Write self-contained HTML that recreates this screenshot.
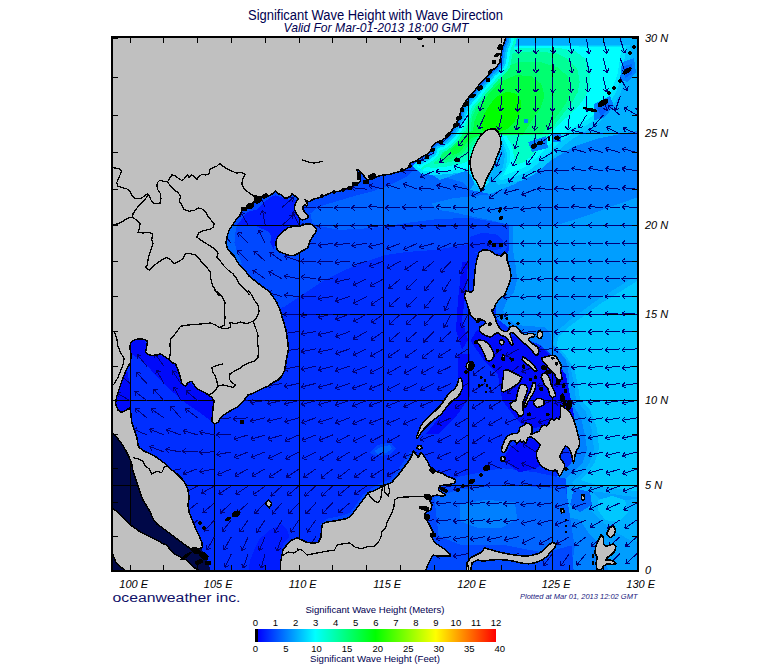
<!DOCTYPE html>
<html><head><meta charset="utf-8"><title>Significant Wave Height</title>
<style>
html,body{margin:0;padding:0;background:#fff;}
body{width:775px;height:665px;overflow:hidden;position:relative;font-family:"Liberation Sans",sans-serif;}
svg{position:absolute;left:0;top:0;}
text{font-family:"Liberation Sans",sans-serif;}
</style></head><body>
<svg width="775" height="665" viewBox="0 0 775 665">
<defs>
<clipPath id="mc"><rect x="113" y="38" width="524" height="532"/></clipPath>
<linearGradient id="cb" x1="0" x2="1" y1="0" y2="0">
<stop offset="0" stop-color="#000"/><stop offset="0.012" stop-color="#000"/>
<stop offset="0.013" stop-color="#0000ff"/>
<stop offset="0.25" stop-color="#00ffff"/>
<stop offset="0.5" stop-color="#00ff00"/>
<stop offset="0.75" stop-color="#ffff00"/>
<stop offset="1" stop-color="#ff0000"/>
</linearGradient>
</defs>
<rect x="0" y="0" width="775" height="665" fill="#fff"/>

<g clip-path="url(#mc)" shape-rendering="crispEdges">
<rect x="113" y="38" width="524" height="532" fill="#002eff"/>
<path d="M270,310 284,307 302,295 323,281 343,271 364,262 385,255 406,252 434,250 465,245 480,240 520,240 520,100 200,100 200,310Z" fill="#0048ff"/>
<path d="M312.1,222.3 317.3,225.7 340,229.9 364.4,228.5 385.3,226.4 406.2,223 434.1,219.5 468.9,217.7 496.8,222.3 514.2,225.7 514.2,163 420.1,163 406.2,177 388.8,185.7 371.3,191.6 353.9,196.1 336.5,201.4 319.1,206.6 310.4,213.6Z" fill="#0064ff"/>
<path d="M431,203.7 451.6,198.5 470.2,196.4 490.8,194.4 515.6,189.2 515.6,226.4 490.8,220.2 470.2,216.1 451.6,211.9 437.2,209.9Z" fill="#0080ff"/>
<path d="M469.2,227.4 511.5,227.4 510.4,236.7 507.3,247 503.2,253.2 470.2,253.2Z" fill="#0048ff"/>
<path d="M470.2,236.7 482.6,232.6 497,234.6 503.2,240.8 501.2,249.1 470.2,253.2Z" fill="#002eff"/>
<path d="M418,163 425,168 440,176 462,182 470,190 483,190 492,198 500,207 506,217 509,226 509,250 503,262 500,285 496,300 496,318 520,336 540,345 552,355 560,372 566,395 570,410 576,430 578,450 570,465 560,472 552,485 546,500 550,520 556,540 552,575 650,575 650,20 506,20 500,60 470,110 440,140Z" fill="#0080ff"/>
<path d="M513,226 513,250 516,268 517,280 514,292 507,301 503,310 507,318 515,324 524,326 545,327 551,335 552,345 558,350 566,360 569,375 569,395 573,405 581,418 585,435 587,450 583,462 576,470 566,478 560,490 556,500 560,515 570,525 585,530 600,545 610,575 650,575 650,193 610,207 586,216 562,223.5 538,226Z" fill="#009eff"/>
<path d="M650,268 637,275 620,286 600,298 585,309 570,320 556,332 553,344 560,352 570,364 574,385 576,400 586,412 592,430 594,450 590,462 582,474 572,482 575,490 600,492 625,496 650,498Z" fill="#00b0ff"/>
<path d="M650,274 637,281 620,292 600,304 585,315 570,326 558,337 557,346 566,356 574,368 578,385 580,400 590,410 597,428 599,448 595,462 588,472 580,480 600,486 625,490 650,492Z" fill="#00c8ff"/>
<path d="M575,484 590,490 600,500 612,505 625,500 650,498 650,545 630,540 612,530 598,518 585,505 572,495Z" fill="#00b0ff"/>
<path d="M598,500 612,496 625,500 628,512 618,522 605,520 598,510Z" fill="#00c8ff"/>
<path d="M574,488 590,492 592,505 580,512 570,505Z" fill="#0064ff"/>
<path d="M540,520 560,515 580,520 590,535 585,560 570,575 540,575Z" fill="#0080ff"/>
<path d="M545,540 560,535 575,545 572,565 560,575 545,575Z" fill="#0064ff"/>
<path d="M470,190 478,178 470,160 462,172 440,180 425,170 440,150 470,115 495,75 505,36 650,36 650,130 630,132 600,138 575,146 555,158 535,172 515,184 500,190 490,194Z" fill="#00b0ff"/>
<path d="M456.8,127.7 465.6,101.4 474.4,79.5 485.4,61.9 496.3,51 505.1,45.5 527,44.8 601.6,44.8 630.1,44.8 631.2,53.2 626.8,76.2 620.3,93.7 608.2,113.5 597.2,124.4 584.1,132.1 573.1,138.7 564.3,145.3 555.5,154.1 544.6,166.1 533.6,174.9 522.6,180.4 498.5,184.8 494.1,180.4 502.9,167.2 505.1,154.1 498.5,136.5 483.2,136.5 470,145.3 452.5,162.8 441.5,171.6 428.3,171.6 437.1,154.1 448.1,140.9Z" fill="#00c8ff"/>
<path d="M459,125.5 465.6,101.4 474.4,79.5 485.4,61.9 496.3,51 507.3,46.1 527,45.5 588.4,45.5 610.4,45.5 626.2,46.1 622.4,75.1 615.9,92.6 603.4,112.4 592.4,121.6 579.7,129.5 568.7,136.1 559.9,142 551.2,150.8 540.2,161.7 529.2,170.5 518.3,175.6 500.7,180.4 498.5,178.2 506.2,167.2 507.3,154.1 500.7,136.5 483.2,136.5 470,144.2 454.6,159.5 443.7,168.3 432.7,169.4 439.3,154.1 449.2,139.8Z" fill="#00e4ff"/>
<path d="M470,126 456,126 448,133 438,142 430,150 420,158 412,166 422,174 436,175 448,174 458,173 466,171 471,176 475,184 482,190 489,182 482,170 478,160 480,150 486,140 494,132Z" fill="#00e4ff"/>
<path d="M461.2,123.4 465.6,101.4 474.4,79.5 485.4,61.9 496.3,51 509.5,47 527,46.1 557.7,46.1 584.1,46.6 606,46.6 621.8,47 617.4,75.1 611,90.9 599,110.6 588.4,119 575.3,126.6 564.3,133.2 555.5,138.7 546.8,147.5 535.8,158.4 524.8,167.2 513.9,171.6 502.9,176 509.5,162.8 509.5,149.7 502.9,136.5 483.2,135.6 470,142 456.8,156.3 445.9,165 437.1,166.1 442.6,154.1 450.3,138.7Z" fill="#00ffff"/>
<path d="M470,128 458,128 450,135 440,144 432,152 422,160 416,166 424,171 436,172 448,171 458,170 466,168 472,172 476,180 482,186 486,180 480,170 476,160 478,150 484,140 492,132Z" fill="#00ffff"/>
<path d="M463.4,127.7 467.8,105.8 476.6,83.9 487.5,66.3 498.5,55.4 511.7,48.8 531.4,47.7 557.7,47.7 575.3,51 586.3,59.7 590.6,72.9 589.5,86.1 585.2,97 578.6,105.8 569.8,114.6 559.9,123.4 551.2,132.1 542.4,143.1 533.6,154.1 524.8,161.7 516.1,165 513.9,156.3 511.7,145.3 506.2,135.6 483.2,135 470,139.8 459,151.9 448.1,160.6 441.5,161.7 447,149.7 453.5,136.5Z" fill="#00ffc8"/>
<path d="M470,128 460,130 452,137 443,145 435,153 427,160 424,166 432,168 444,167 455,165 464,163 470,160 474,150 480,140 488,132Z" fill="#00ffc8"/>
<path d="M465.6,132.1 470,110.2 478.8,90.4 489.7,72.9 500.7,60.8 513.9,53.2 535.8,51 557.7,53.6 568.7,59.7 577.5,69.6 579.7,81.7 577.5,92.6 572,102.5 564.3,112.4 556.6,122.3 549,135 483.2,135 470,138.3 460.1,148.6 450.3,156.3 445.9,156.3 451.4,145.3 457.9,134.3Z" fill="#00ff96"/>
<path d="M470,130 460,132 453,139 445,147 438,154 432,160 434,164 444,163 454,161 462,158 468,154 472,147 478,139 486,132Z" fill="#00ff96"/>
<path d="M470,135 472.2,116.8 481,97 491.9,81.7 502.9,68.5 518.3,61.9 540.2,61.9 557.7,67.4 567.6,76.2 570.9,88.3 568.3,99.2 562.1,109.1 554.4,119 546.8,127.7 541.3,135 483.2,135 470,137 461.2,145.3 453.5,151.9 450.3,150.8 455.7,140.9 462.3,133.2Z" fill="#00ff70"/>
<path d="M472,130 462,134 455,141 448,148 442,154 440,159 446,160 454,158 461,154 466,149 470,143 476,137 484,132Z" fill="#00ff70"/>
<path d="M472.2,135 474.4,121.2 481,105.8 489.7,92.6 500.7,81.7 516.1,75.1 531.4,76.2 541.3,83.9 544.6,95.9 540.2,109.1 531.4,121.2 522.6,135 483.2,135 472.2,137.6 463.4,143.1 460.1,140.9 465.6,134.3Z" fill="#00ff42"/>
<path d="M474,130 466,134 460,140 454,146 450,151 452,155 458,153 463,148 467,142 472,137 480,132Z" fill="#00ff42"/>
<path d="M481,127.7 483.2,115.7 489.7,104.7 496.3,97 507.3,91.5 516.1,93.7 521.5,101.4 520.4,111.3 515,121.2 507.3,128.8 496.3,133.2 485.4,133.2Z" fill="#00ff00"/>
<path d="M622,62 634,58 636,72 628,82 620,80Z" fill="#0080ff"/>
<path d="M624,66 632,64 632,74 625,78Z" fill="#0064ff"/>
<path d="M594,104 610,96 614,106 604,118 594,120Z" fill="#0080ff"/>
<path d="M597,108 608,101 610,108 601,116Z" fill="#0064ff"/>
<path d="M528,142 546,136 548,148 532,152Z" fill="#0080ff"/>
<path d="M553,134 561,134 561,142 553,142Z" fill="#0080ff"/>
<path d="M524,119 528,119 528,123 524,123Z" fill="#0080ff"/>
<path d="M425.9,489.3 459.8,476.6 502.2,468.1 536.2,472.4 565.8,478.7 574.3,578.4 425.9,578.4Z" fill="#0048ff"/>
<path d="M434.4,497.8 459.8,489.3 502.2,485.1 544.6,487.2 565.8,489.3 574.3,544.5 544.6,552.9 502.2,544.5 459.8,544.5 438.6,536Z" fill="#0064ff"/>
<path d="M459.8,504.2 485.3,499.9 514.9,502 517.1,519 502.2,527.5 476.8,527.5 459.8,521.1Z" fill="#0080ff"/>
<path d="M319.5,525 327,518.8 339.5,516.2 349.5,513 355.8,505 363.2,494.5 372,488 382,482.5 390,479.5 395.8,472 403.2,462.5 409.5,452.5 413.2,451.2 412,456.2 405.8,466.2 398.2,476.2 392,483.8 383.2,487 373.2,492.5 365.8,497.5 358.2,507.5 350.8,517.5 339.5,521.2 327,523 322.5,525Z" fill="#0048ff"/>
<path d="M369.5,452.5 377,445 390.8,442.5 395.8,448.8 389.5,455 375.8,456.2Z" fill="#0048ff"/>
<path d="M374.5,451.2 379.5,447.5 389.5,445 392.5,448.8 387,452.5 377,453.8Z" fill="#0064ff"/>
<path d="M130.9,336.5 144.9,336.5 146.6,354 162.3,355.7 174.5,364.4 185,378.4 197.2,388.8 211.2,397.6 214.6,402.8 214.6,423.7 200.7,413.2 185,402.8 169.3,388.8 155.3,374.9 143.1,360.9 130.9,354Z" fill="#000afa"/>
<path d="M110,367.9 127.4,371.4 130.9,392.3 130.9,413.2 120.5,415 110,409.8Z" fill="#000afa"/>
<path d="M247.5,574.9 250.5,559 254.5,549.1 259.4,539.2 269.4,530.3 281.3,524.3 287.2,529.3 289.2,537.2 283.3,543.2 281.3,551.1 283.3,574.9Z" fill="#001cff"/>
<path d="M470.4,340.9 476.8,330.3 502.2,331.6 523.4,340 542.5,348.5 553.1,357.9 565.8,374.8 570.1,396 574.3,417.2 565.8,429.9 544.6,425.7 527.7,429.9 514.9,417.2 502.2,400.3 498,374.8 485.3,362.1Z" fill="#000afa"/>
<path d="M502.2,459.6 510.7,446.9 527.7,438.4 544.6,442.7 548.9,459.6 536.2,468.1 519.2,472.4Z" fill="#000afa"/>
<path d="M457.7,353.6 470.4,353.6 470.4,396 455.6,417.2 438.6,434.2 425.9,434.2 442.9,413 457.7,391.8Z" fill="#000afa"/>
<path d="M462,262 468,262 466,290 462,320 468,340 462,350 456,330 458,300Z" fill="#000afa"/>
<path d="M236.6,224.7 240.8,220.5 243.9,215.3 249.2,211.1 256.6,210 260.8,205.8 265,201.6 270.3,197.4 275.5,195.3 281.8,197.4 288.2,199.5 296.6,199.5 297.6,203.7 294.5,206.8 296.6,213.2 298.7,218.4 300.8,222.6 298.7,225.8 288.2,226.3 283.9,230 279.7,234.2 276.6,238.4 275.5,242.6 273.4,248.9 270.3,242.6 271.3,236.3 269.2,232.1 256.6,226.3 246.1,225.8Z" fill="#001cff"/>
<path d="M231.3,225.8 236.6,226.3 235,234.2 234.5,242.6 236.6,250 239.7,257.4 241.8,263.7 235.5,263.7 229.2,253.2 226.1,242.6 228.2,232.1Z" fill="#0064ff"/>
<path d="M100,425 127,425 135,450 145,480 160,510 185,535 200,545 215,580 100,580Z" fill="#000848"/>
<polyline points="506,35 504.8,41.2 502.2,47.5 501,55 499.8,62.5 496,67.5 491,71.2 487.2,76.2 483.5,80 479.8,83.8 476,88.8 472.2,93.8 468.5,97.5 464.8,102.5 462.2,107.5 459.8,115 457.2,121.2 452,130 449.5,133.8 445.8,137.5 440.8,141.2 435.8,142.5 432,146.2 430.8,151.2 425.8,155 420.8,157.5 415.8,161.2" fill="none" stroke="#00ffc8" stroke-width="22" stroke-linejoin="round" stroke-linecap="butt"/>
<polyline points="506,35 504.8,41.2 502.2,47.5 501,55 499.8,62.5 496,67.5 491,71.2 487.2,76.2 483.5,80 479.8,83.8 476,88.8 472.2,93.8 468.5,97.5 464.8,102.5 462.2,107.5 459.8,115 457.2,121.2 452,130 449.5,133.8 445.8,137.5 440.8,141.2 435.8,142.5 432,146.2 430.8,151.2 425.8,155 420.8,157.5 415.8,161.2" fill="none" stroke="#00ffff" stroke-width="17" stroke-linejoin="round" stroke-linecap="butt"/>
<polyline points="506,35 504.8,41.2 502.2,47.5 501,55 499.8,62.5 496,67.5 491,71.2 487.2,76.2 483.5,80 479.8,83.8 476,88.8 472.2,93.8 468.5,97.5 464.8,102.5 462.2,107.5 459.8,115 457.2,121.2 452,130 449.5,133.8 445.8,137.5 440.8,141.2 435.8,142.5 432,146.2 430.8,151.2 425.8,155 420.8,157.5 415.8,161.2" fill="none" stroke="#00c8ff" stroke-width="12" stroke-linejoin="round" stroke-linecap="butt"/>
<polyline points="506,35 504.8,41.2 502.2,47.5 501,55 499.8,62.5 496,67.5 491,71.2 487.2,76.2 483.5,80 479.8,83.8 476,88.8 472.2,93.8 468.5,97.5 464.8,102.5 462.2,107.5 459.8,115 457.2,121.2 452,130 449.5,133.8 445.8,137.5 440.8,141.2 435.8,142.5 432,146.2 430.8,151.2 425.8,155 420.8,157.5 415.8,161.2" fill="none" stroke="#009eff" stroke-width="8" stroke-linejoin="round" stroke-linecap="butt"/>
<polyline points="506,35 504.8,41.2 502.2,47.5 501,55 499.8,62.5 496,67.5 491,71.2 487.2,76.2 483.5,80 479.8,83.8 476,88.8 472.2,93.8 468.5,97.5 464.8,102.5 462.2,107.5 459.8,115 457.2,121.2 452,130 449.5,133.8 445.8,137.5 440.8,141.2 435.8,142.5 432,146.2 430.8,151.2 425.8,155 420.8,157.5 415.8,161.2" fill="none" stroke="#0064ff" stroke-width="4" stroke-linejoin="round" stroke-linecap="butt"/>
<line x1="130.5" y1="38" x2="130.5" y2="570" stroke="#000" stroke-width="1"/>
<line x1="214.5" y1="38" x2="214.5" y2="570" stroke="#000" stroke-width="1"/>
<line x1="299.5" y1="38" x2="299.5" y2="570" stroke="#000" stroke-width="1"/>
<line x1="383.5" y1="38" x2="383.5" y2="570" stroke="#000" stroke-width="1"/>
<line x1="468.5" y1="38" x2="468.5" y2="570" stroke="#000" stroke-width="1"/>
<line x1="552.5" y1="38" x2="552.5" y2="570" stroke="#000" stroke-width="1"/>
<line x1="113" y1="485.5" x2="637" y2="485.5" stroke="#000" stroke-width="1"/>
<line x1="113" y1="400.5" x2="637" y2="400.5" stroke="#000" stroke-width="1"/>
<line x1="113" y1="314.5" x2="637" y2="314.5" stroke="#000" stroke-width="1"/>
<line x1="113" y1="225.5" x2="637" y2="225.5" stroke="#000" stroke-width="1"/>
<line x1="113" y1="133.5" x2="637" y2="133.5" stroke="#000" stroke-width="1"/>
<g stroke="#000078" stroke-width="1" fill="none">
<path d="M130.0,400.6L116.9,393.0M116.9,393.0l4.5,-0.6M116.9,393.0l1.7,4.2M130.0,383.4L118.5,373.5M118.5,373.5l4.5,0.2M118.5,373.5l0.9,4.4M130.0,366.2L120.2,354.6M120.2,354.6l4.4,0.9M120.2,354.6l0.2,4.5M146.9,451.9L133.1,445.6M133.1,445.6l4.4,-1.0M133.1,445.6l2.1,4.0M146.9,434.9L132.9,429.0M132.9,429.0l4.3,-1.2M132.9,429.0l2.2,3.9M146.9,417.8L135.1,408.2M135.1,408.2l4.5,0.1M135.1,408.2l1.0,4.4M146.9,400.6L134.8,391.4M134.8,391.4l4.5,-0.1M134.8,391.4l1.1,4.4M146.9,383.4L136.4,372.5M136.4,372.5l4.5,0.6M136.4,372.5l0.5,4.5M146.9,366.2L137.1,354.6M137.1,354.6l4.4,0.9M137.1,354.6l0.2,4.5M163.8,451.9L149.6,446.4M149.6,446.4l4.3,-1.3M149.6,446.4l2.3,3.9M163.8,434.9L149.7,429.1M149.7,429.1l4.3,-1.2M149.7,429.1l2.2,3.9M163.8,417.8L151.4,409.0M151.4,409.0l4.5,-0.2M151.4,409.0l1.3,4.3M163.8,400.6L153.8,389.2M153.8,389.2l4.4,0.8M153.8,389.2l0.2,4.5M163.8,383.4L156.5,370.1M156.5,370.1l4.1,1.8M156.5,370.1l-0.7,4.4M163.8,366.2L155.1,353.7M155.1,353.7l4.3,1.3M155.1,353.7l-0.2,4.5M180.7,468.9L165.8,472.0M165.8,472.0l2.9,-3.4M165.8,472.0l4.0,2.0M180.7,451.9L165.7,449.3M165.7,449.3l4.0,-2.1M165.7,449.3l3.0,3.3M180.7,434.9L166.4,429.6M166.4,429.6l4.3,-1.4M166.4,429.6l2.4,3.8M180.7,417.8L170.7,406.3M170.7,406.3l4.4,0.8M170.7,406.3l0.3,4.5M180.7,400.6L174.1,386.9M174.1,386.9l4.0,2.0M174.1,386.9l-1.0,4.4M180.7,383.4L172.4,370.7M172.4,370.7l4.3,1.5M172.4,370.7l-0.4,4.5M197.6,519.8L186.9,530.6M186.9,530.6l0.5,-4.5M186.9,530.6l4.5,-0.6M197.6,502.8L185.7,512.4M185.7,512.4l1.0,-4.4M185.7,512.4l4.5,-0.1M197.6,485.9L184.4,493.4M184.4,493.4l1.7,-4.2M184.4,493.4l4.5,0.7M197.6,468.9L183.2,473.9M183.2,473.9l2.4,-3.8M183.2,473.9l4.3,1.4M197.6,451.9L182.4,450.9M182.4,450.9l3.7,-2.5M182.4,450.9l3.4,3.0M197.6,434.9L183.0,430.6M183.0,430.6l4.2,-1.7M183.0,430.6l2.6,3.6M197.6,417.8L185.4,408.7M185.4,408.7l4.5,-0.1M185.4,408.7l1.2,4.3M197.6,400.6L186.0,390.8M186.0,390.8l4.5,0.2M186.0,390.8l0.9,4.4M214.5,536.7L206.9,549.8M206.9,549.8l-0.6,-4.5M206.9,549.8l4.2,-1.7M214.5,519.8L204.4,531.1M204.4,531.1l0.3,-4.5M204.4,531.1l4.4,-0.8M214.5,502.8L202.9,512.7M202.9,512.7l0.9,-4.4M202.9,512.7l4.5,-0.2M214.5,485.9L201.3,493.4M201.3,493.4l1.7,-4.2M201.3,493.4l4.5,0.7M214.5,468.9L199.6,471.9M199.6,471.9l2.9,-3.4M199.6,471.9l4.0,2.0M214.5,451.9L199.3,452.3M199.3,452.3l3.5,-2.9M199.3,452.3l3.6,2.7M214.5,434.9L199.6,431.8M199.6,431.8l4.0,-2.0M199.6,431.8l2.9,3.4M231.4,553.6L225.1,567.4M225.1,567.4l-1.1,-4.4M225.1,567.4l4.0,-2.1M231.4,536.7L223.9,549.9M223.9,549.9l-0.7,-4.4M223.9,549.9l4.2,-1.7M231.4,519.8L222.0,531.7M222.0,531.7l0.0,-4.5M222.0,531.7l4.4,-1.1M231.4,502.8L220.2,513.1M220.2,513.1l0.7,-4.4M220.2,513.1l4.5,-0.3M231.4,485.9L218.6,494.2M218.6,494.2l1.5,-4.3M218.6,494.2l4.5,0.4M231.4,468.9L217.4,474.8M217.4,474.8l2.2,-3.9M217.4,474.8l4.3,1.2M231.4,451.9L216.5,454.7M216.5,454.7l3.0,-3.4M216.5,454.7l4.0,2.1M231.4,434.9L216.2,434.7M216.2,434.7l3.6,-2.7M216.2,434.7l3.5,2.8M231.4,417.8L216.3,419.0M216.3,419.0l3.3,-3.1M216.3,419.0l3.8,2.5M231.4,243.3L221.2,232.1M221.2,232.1l4.4,0.8M221.2,232.1l0.3,4.5M248.3,553.6L243.1,567.9M243.1,567.9l-1.4,-4.3M243.1,567.9l3.8,-2.4M248.3,536.7L241.8,550.5M241.8,550.5l-1.0,-4.4M241.8,550.5l4.0,-2.0M248.3,519.8L239.6,532.2M239.6,532.2l-0.2,-4.5M239.6,532.2l4.3,-1.3M248.3,502.8L237.0,513.0M237.0,513.0l0.8,-4.4M237.0,513.0l4.5,-0.3M248.3,485.9L235.7,494.4M235.7,494.4l1.4,-4.3M235.7,494.4l4.5,0.3M248.3,468.9L234.9,476.0M234.9,476.0l1.8,-4.1M234.9,476.0l4.4,0.8M248.3,451.9L234.2,457.6M234.2,457.6l2.2,-3.9M234.2,457.6l4.3,1.2M248.3,434.9L233.7,439.2M233.7,439.2l2.6,-3.7M233.7,439.2l4.2,1.6M248.3,417.8L233.1,419.0M233.1,419.0l3.3,-3.0M233.1,419.0l3.8,2.5M248.3,400.6L233.1,400.7M233.1,400.7l3.5,-2.8M233.1,400.7l3.5,2.8M248.3,261.2L237.5,250.5M237.5,250.5l4.5,0.5M237.5,250.5l0.6,4.5M248.3,243.3L237.7,232.5M237.7,232.5l4.5,0.6M237.7,232.5l0.5,4.5M248.3,225.4L240.7,212.2M240.7,212.2l4.2,1.7M240.7,212.2l-0.6,4.5M248.3,207.4L242.0,193.6M242.0,193.6l4.0,2.1M242.0,193.6l-1.0,4.4M265.2,553.6L261.0,568.2M261.0,568.2l-1.7,-4.2M261.0,568.2l3.6,-2.7M265.2,536.7L259.1,550.6M259.1,550.6l-1.1,-4.4M259.1,550.6l4.0,-2.1M265.2,519.8L256.8,532.5M256.8,532.5l-0.4,-4.5M256.8,532.5l4.3,-1.4M265.2,502.8L254.7,513.8M254.7,513.8l0.5,-4.5M254.7,513.8l4.5,-0.6M265.2,485.9L253.0,495.0M253.0,495.0l1.2,-4.3M253.0,495.0l4.5,0.1M265.2,468.9L251.8,476.2M251.8,476.2l1.8,-4.1M251.8,476.2l4.4,0.7M265.2,451.9L251.0,457.4M251.0,457.4l2.3,-3.9M251.0,457.4l4.3,1.3M265.2,434.9L250.7,439.5M250.7,439.5l2.5,-3.7M250.7,439.5l4.2,1.5M265.2,417.8L250.4,421.4M250.4,421.4l2.8,-3.5M250.4,421.4l4.1,1.8M265.2,400.6L250.1,402.6M250.1,402.6l3.2,-3.2M250.1,402.6l3.9,2.3M265.2,278.9L252.8,270.1M252.8,270.1l4.5,-0.2M252.8,270.1l1.3,4.3M265.2,261.2L253.9,251.0M253.9,251.0l4.5,0.3M253.9,251.0l0.8,4.4M265.2,243.3L258.6,229.7M258.6,229.7l4.0,2.0M258.6,229.7l-0.9,4.4M265.2,225.4L262.5,210.5M262.5,210.5l3.4,3.0M262.5,210.5l-2.1,4.0M265.2,207.4L259.1,193.4M259.1,193.4l4.0,2.1M259.1,193.4l-1.1,4.4M282.1,536.7L276.8,551.0M276.8,551.0l-1.4,-4.3M276.8,551.0l3.8,-2.4M282.1,519.8L274.5,532.9M274.5,532.9l-0.6,-4.5M274.5,532.9l4.2,-1.7M282.1,502.8L272.0,514.2M272.0,514.2l0.3,-4.5M272.0,514.2l4.4,-0.8M282.1,485.9L270.9,496.1M270.9,496.1l0.8,-4.4M270.9,496.1l4.5,-0.3M282.1,468.9L269.4,477.3M269.4,477.3l1.4,-4.3M269.4,477.3l4.5,0.4M282.1,451.9L268.5,458.7M268.5,458.7l1.9,-4.1M268.5,458.7l4.4,0.9M282.1,434.9L267.6,439.5M267.6,439.5l2.5,-3.7M267.6,439.5l4.2,1.6M282.1,417.8L267.4,421.4M267.4,421.4l2.8,-3.5M267.4,421.4l4.1,1.8M282.1,400.6L267.2,403.8M267.2,403.8l2.9,-3.4M267.2,403.8l4.0,2.0M282.1,383.4L267.1,386.1M267.1,386.1l3.0,-3.3M267.1,386.1l4.0,2.1M282.1,314.1L266.9,314.0M266.9,314.0l3.6,-2.8M266.9,314.0l3.5,2.8M282.1,296.5L267.5,292.3M267.5,292.3l4.2,-1.7M267.5,292.3l2.6,3.6M282.1,278.9L268.9,271.3M268.9,271.3l4.5,-0.6M268.9,271.3l1.7,4.2M282.1,261.2L269.7,252.4M269.7,252.4l4.5,-0.2M269.7,252.4l1.3,4.3M282.1,225.4L293.2,215.1M293.2,215.1l-0.7,4.4M293.2,215.1l-4.5,0.4M282.1,207.4L293.5,197.3M293.5,197.3l-0.8,4.4M293.5,197.3l-4.5,0.3M299.0,536.7L292.5,550.4M292.5,550.4l-1.0,-4.4M292.5,550.4l4.0,-2.0M299.0,519.8L290.5,532.4M290.5,532.4l-0.3,-4.5M290.5,532.4l4.3,-1.4M299.0,502.8L288.6,513.9M288.6,513.9l0.4,-4.5M288.6,513.9l4.4,-0.7M299.0,485.9L287.3,495.7M287.3,495.7l0.9,-4.4M287.3,495.7l4.5,-0.2M299.0,468.9L286.4,477.4M286.4,477.4l1.4,-4.3M286.4,477.4l4.5,0.3M299.0,451.9L285.6,459.1M285.6,459.1l1.8,-4.1M285.6,459.1l4.4,0.8M299.0,434.9L285.1,440.9M285.1,440.9l2.1,-4.0M285.1,440.9l4.4,1.1M299.0,417.8L284.4,421.9M284.4,421.9l2.7,-3.6M284.4,421.9l4.2,1.7M299.0,400.6L284.2,404.0M284.2,404.0l2.8,-3.5M284.2,404.0l4.1,1.9M299.0,383.4L284.1,386.6M284.1,386.6l2.9,-3.5M284.1,386.6l4.0,2.0M299.0,366.2L284.1,369.3M284.1,369.3l2.9,-3.4M284.1,369.3l4.0,2.0M299.0,348.9L284.0,351.0M284.0,351.0l3.1,-3.2M284.0,351.0l3.9,2.2M299.0,331.5L283.9,333.6M283.9,333.6l3.1,-3.2M283.9,333.6l3.9,2.3M299.0,314.1L283.8,314.6M283.8,314.6l3.4,-2.9M283.8,314.6l3.6,2.6M299.0,296.5L283.9,295.2M283.9,295.2l3.8,-2.4M283.9,295.2l3.3,3.1M299.0,278.9L284.1,275.9M284.1,275.9l4.0,-2.0M284.1,275.9l2.9,3.4M299.0,261.2L284.7,256.1M284.7,256.1l4.3,-1.4M284.7,256.1l2.4,3.8M299.0,225.4L292.7,211.6M292.7,211.6l4.0,2.1M292.7,211.6l-1.0,4.4M315.9,536.7L307.2,549.1M307.2,549.1l-0.2,-4.5M307.2,549.1l4.3,-1.3M315.9,519.8L307.1,532.2M307.1,532.2l-0.2,-4.5M307.1,532.2l4.3,-1.3M315.9,502.8L305.7,514.1M305.7,514.1l0.3,-4.5M305.7,514.1l4.4,-0.8M315.9,485.9L304.7,496.1M304.7,496.1l0.8,-4.4M304.7,496.1l4.5,-0.3M315.9,468.9L303.4,477.6M303.4,477.6l1.3,-4.3M303.4,477.6l4.5,0.2M315.9,451.9L302.3,458.7M302.3,458.7l1.9,-4.1M302.3,458.7l4.4,0.9M315.9,434.9L301.8,440.6M301.8,440.6l2.2,-3.9M301.8,440.6l4.3,1.2M315.9,417.8L301.6,422.8M301.6,422.8l2.4,-3.8M301.6,422.8l4.3,1.4M315.9,400.6L301.2,404.7M301.2,404.7l2.7,-3.6M301.2,404.7l4.2,1.7M315.9,383.4L301.2,387.1M301.2,387.1l2.8,-3.5M301.2,387.1l4.1,1.8M315.9,366.2L301.1,369.6M301.1,369.6l2.8,-3.5M301.1,369.6l4.1,1.9M315.9,348.9L301.0,351.7M301.0,351.7l3.0,-3.4M301.0,351.7l4.0,2.1M315.9,331.5L300.9,334.0M300.9,334.0l3.0,-3.3M300.9,334.0l4.0,2.1M315.9,314.1L300.8,315.7M300.8,315.7l3.2,-3.1M300.8,315.7l3.8,2.4M315.9,296.5L300.7,296.6M300.7,296.6l3.5,-2.8M300.7,296.6l3.6,2.8M315.9,278.9L300.9,276.7M300.9,276.7l3.9,-2.2M300.9,276.7l3.1,3.2M315.9,261.2L300.7,261.1M300.7,261.1l3.6,-2.8M300.7,261.1l3.5,2.8M315.9,243.3L300.7,243.3M300.7,243.3l3.5,-2.8M300.7,243.3l3.5,2.8M315.9,225.4L300.7,225.4M300.7,225.4l3.6,-2.8M300.7,225.4l3.5,2.8M315.9,207.4L300.7,206.9M300.7,206.9l3.6,-2.7M300.7,206.9l3.5,2.9M332.8,519.8L323.5,531.8M323.5,531.8l-0.0,-4.5M323.5,531.8l4.4,-1.1M332.8,502.8L322.1,513.7M322.1,513.7l0.5,-4.5M322.1,513.7l4.5,-0.6M332.8,485.9L321.5,496.1M321.5,496.1l0.8,-4.4M321.5,496.1l4.5,-0.3M332.8,468.9L320.9,478.3M320.9,478.3l1.1,-4.4M320.9,478.3l4.5,-0.0M332.8,451.9L319.7,459.7M319.7,459.7l1.6,-4.2M319.7,459.7l4.5,0.6M332.8,434.9L318.7,440.5M318.7,440.5l2.3,-3.9M318.7,440.5l4.3,1.2M332.8,417.8L318.3,422.5M318.3,422.5l2.5,-3.7M318.3,422.5l4.2,1.5M332.8,400.6L318.2,404.8M318.2,404.8l2.6,-3.6M318.2,404.8l4.2,1.7M332.8,383.4L318.1,387.4M318.1,387.4l2.7,-3.6M318.1,387.4l4.1,1.8M332.8,366.2L318.1,369.9M318.1,369.9l2.8,-3.5M318.1,369.9l4.1,1.8M332.8,348.9L317.9,352.1M317.9,352.1l2.9,-3.5M317.9,352.1l4.0,2.0M332.8,331.5L317.9,334.7M317.9,334.7l2.9,-3.4M317.9,334.7l4.0,2.0M332.8,314.1L317.9,317.2M317.9,317.2l2.9,-3.4M317.9,317.2l4.0,2.0M332.8,296.5L317.7,298.6M317.7,298.6l3.1,-3.2M317.7,298.6l3.9,2.3M332.8,278.9L317.6,279.5M317.6,279.5l3.4,-2.9M317.6,279.5l3.6,2.6M332.8,261.2L317.6,262.1M317.6,262.1l3.4,-3.0M317.6,262.1l3.7,2.5M332.8,243.3L317.7,245.4M317.7,245.4l3.1,-3.2M317.7,245.4l3.9,2.3M332.8,225.4L317.6,226.1M317.6,226.1l3.4,-2.9M317.6,226.1l3.7,2.6M332.8,207.4L317.6,207.9M317.6,207.9l3.4,-2.9M317.6,207.9l3.6,2.6M349.7,502.8L338.3,512.9M338.3,512.9l0.8,-4.4M338.3,512.9l4.5,-0.3M349.7,485.9L338.0,495.6M338.0,495.6l1.0,-4.4M338.0,495.6l4.5,-0.1M349.7,468.9L337.7,478.2M337.7,478.2l1.1,-4.4M337.7,478.2l4.5,0.0M349.7,451.9L336.8,460.0M336.8,460.0l1.5,-4.2M336.8,460.0l4.5,0.5M349.7,434.9L336.2,441.9M336.2,441.9l1.9,-4.1M336.2,441.9l4.4,0.8M349.7,417.8L335.4,423.0M335.4,423.0l2.4,-3.8M335.4,423.0l4.3,1.4M349.7,400.6L335.2,405.3M335.2,405.3l2.5,-3.7M335.2,405.3l4.2,1.5M349.7,383.4L335.3,388.4M335.3,388.4l2.5,-3.8M335.3,388.4l4.3,1.5M349.7,366.2L335.3,371.0M335.3,371.0l2.5,-3.7M335.3,371.0l4.2,1.5M349.7,348.9L335.3,353.8M335.3,353.8l2.5,-3.8M335.3,353.8l4.3,1.5M349.7,331.5L335.4,336.8M335.4,336.8l2.4,-3.8M335.4,336.8l4.3,1.4M349.7,314.1L335.4,319.3M335.4,319.3l2.4,-3.8M335.4,319.3l4.3,1.4M349.7,296.5L335.2,301.1M335.2,301.1l2.6,-3.7M335.2,301.1l4.2,1.6M349.7,278.9L334.8,282.0M334.8,282.0l2.9,-3.4M334.8,282.0l4.0,2.0M349.7,261.2L334.6,262.5M334.6,262.5l3.3,-3.1M334.6,262.5l3.8,2.4M349.7,243.3L334.6,245.0M334.6,245.0l3.2,-3.1M334.6,245.0l3.8,2.4M349.7,225.4L334.5,226.2M334.5,226.2l3.4,-3.0M334.5,226.2l3.7,2.6M349.7,207.4L334.5,207.9M334.5,207.9l3.5,-2.9M334.5,207.9l3.6,2.7M349.7,189.2L334.5,189.2M334.5,189.2l3.5,-2.8M334.5,189.2l3.6,2.8M366.6,485.9L354.3,494.8M354.3,494.8l1.3,-4.3M354.3,494.8l4.5,0.2M366.6,468.9L354.2,477.7M354.2,477.7l1.3,-4.3M354.2,477.7l4.5,0.2M366.6,451.9L353.6,459.7M353.6,459.7l1.6,-4.2M353.6,459.7l4.5,0.6M366.6,434.9L352.9,441.5M352.9,441.5l2.0,-4.0M352.9,441.5l4.4,0.9M366.6,417.8L352.7,423.9M352.7,423.9l2.1,-4.0M352.7,423.9l4.4,1.1M366.6,400.6L352.4,406.0M352.4,406.0l2.3,-3.8M352.4,406.0l4.3,1.3M366.6,383.4L352.3,388.7M352.3,388.7l2.4,-3.8M352.3,388.7l4.3,1.4M366.6,366.2L352.5,371.9M352.5,371.9l2.2,-3.9M352.5,371.9l4.3,1.2M366.6,348.9L352.8,355.3M352.8,355.3l2.0,-4.0M352.8,355.3l4.4,1.0M366.6,331.5L353.4,339.1M353.4,339.1l1.7,-4.2M353.4,339.1l4.5,0.6M366.6,314.1L353.4,321.6M353.4,321.6l1.7,-4.2M353.4,321.6l4.5,0.6M366.6,296.5L353.2,303.6M353.2,303.6l1.8,-4.1M353.2,303.6l4.4,0.8M366.6,278.9L352.8,285.3M352.8,285.3l2.0,-4.0M352.8,285.3l4.4,1.0M366.6,261.2L352.0,265.5M352.0,265.5l2.6,-3.7M352.0,265.5l4.2,1.6M366.6,243.3L351.6,245.7M351.6,245.7l3.1,-3.3M351.6,245.7l3.9,2.2M366.6,225.4L351.4,226.0M351.4,226.0l3.4,-2.9M351.4,226.0l3.6,2.6M366.6,207.4L351.4,207.9M351.4,207.9l3.5,-2.9M351.4,207.9l3.6,2.6M366.6,189.2L351.5,187.7M351.5,187.7l3.8,-2.4M351.5,187.7l3.2,3.1M383.5,468.9L370.7,477.1M370.7,477.1l1.5,-4.2M370.7,477.1l4.5,0.4M383.5,451.9L370.9,460.4M370.9,460.4l1.4,-4.3M370.9,460.4l4.5,0.3M383.5,434.9L370.0,441.9M370.0,441.9l1.8,-4.1M370.0,441.9l4.4,0.8M383.5,417.8L369.4,423.5M369.4,423.5l2.2,-3.9M369.4,423.5l4.3,1.2M383.5,400.6L369.2,405.9M369.2,405.9l2.4,-3.8M369.2,405.9l4.3,1.4M383.5,383.4L369.4,389.1M369.4,389.1l2.3,-3.9M369.4,389.1l4.3,1.3M383.5,366.2L369.9,372.9M369.9,372.9l2.0,-4.1M369.9,372.9l4.4,0.9M383.5,348.9L370.3,356.5M370.3,356.5l1.7,-4.2M370.3,356.5l4.5,0.6M383.5,331.5L371.0,340.1M371.0,340.1l1.4,-4.3M371.0,340.1l4.5,0.3M383.5,314.1L371.1,322.9M371.1,322.9l1.3,-4.3M371.1,322.9l4.5,0.2M383.5,296.5L370.9,305.0M370.9,305.0l1.4,-4.3M370.9,305.0l4.5,0.3M383.5,278.9L370.2,286.2M370.2,286.2l1.8,-4.1M370.2,286.2l4.4,0.7M383.5,261.2L369.2,266.4M369.2,266.4l2.4,-3.8M369.2,266.4l4.3,1.4M383.5,243.3L368.6,246.6M368.6,246.6l2.9,-3.5M368.6,246.6l4.1,2.0M383.5,225.4L368.4,227.1M368.4,227.1l3.2,-3.2M368.4,227.1l3.8,2.4M383.5,207.4L368.3,206.5M368.3,206.5l3.7,-2.6M368.3,206.5l3.4,3.0M383.5,189.2L368.8,185.3M368.8,185.3l4.1,-1.8M368.8,185.3l2.7,3.6M400.4,468.9L386.9,475.9M386.9,475.9l1.9,-4.1M386.9,475.9l4.4,0.8M400.4,451.9L387.3,459.6M387.3,459.6l1.7,-4.2M387.3,459.6l4.5,0.6M400.4,434.9L387.2,442.4M387.2,442.4l1.7,-4.2M387.2,442.4l4.5,0.6M400.4,417.8L386.6,424.2M386.6,424.2l2.0,-4.0M386.6,424.2l4.4,1.0M400.4,400.6L386.4,406.5M386.4,406.5l2.2,-3.9M386.4,406.5l4.3,1.2M400.4,383.4L386.8,390.3M386.8,390.3l1.9,-4.1M386.8,390.3l4.4,0.9M400.4,366.2L387.2,373.8M387.2,373.8l1.7,-4.2M387.2,373.8l4.5,0.6M400.4,348.9L387.9,357.6M387.9,357.6l1.3,-4.3M387.9,357.6l4.5,0.2M400.4,331.5L389.1,341.6M389.1,341.6l0.8,-4.4M389.1,341.6l4.5,-0.3M400.4,314.1L389.4,324.6M389.4,324.6l0.6,-4.5M389.4,324.6l4.5,-0.5M400.4,296.5L389.1,306.7M389.1,306.7l0.8,-4.4M389.1,306.7l4.5,-0.3M400.4,278.9L388.7,288.6M388.7,288.6l1.0,-4.4M388.7,288.6l4.5,-0.1M400.4,261.2L387.1,268.6M387.1,268.6l1.7,-4.1M387.1,268.6l4.4,0.7M400.4,243.3L386.3,248.9M386.3,248.9l2.3,-3.9M386.3,248.9l4.3,1.3M400.4,225.4L385.3,227.0M385.3,227.0l3.2,-3.1M385.3,227.0l3.8,2.4M400.4,207.4L385.2,207.8M385.2,207.8l3.5,-2.9M385.2,207.8l3.6,2.7M400.4,189.2L386.1,184.2M386.1,184.2l4.3,-1.4M386.1,184.2l2.4,3.8M417.3,451.9L403.1,457.2M403.1,457.2l2.3,-3.8M403.1,457.2l4.3,1.4M417.3,417.8L403.5,424.2M403.5,424.2l2.0,-4.0M403.5,424.2l4.4,1.0M417.3,400.6L403.5,406.9M403.5,406.9l2.1,-4.0M403.5,406.9l4.4,1.1M417.3,383.4L403.5,389.9M403.5,389.9l2.0,-4.0M403.5,389.9l4.4,1.0M417.3,366.2L404.1,373.7M404.1,373.7l1.7,-4.2M404.1,373.7l4.5,0.7M417.3,348.9L405.0,357.9M405.0,357.9l1.2,-4.3M405.0,357.9l4.5,0.1M417.3,331.5L406.0,341.7M406.0,341.7l0.8,-4.4M406.0,341.7l4.5,-0.3M417.3,314.1L406.5,324.7M406.5,324.7l0.6,-4.5M406.5,324.7l4.5,-0.5M417.3,296.5L406.5,307.2M406.5,307.2l0.6,-4.5M406.5,307.2l4.5,-0.5M417.3,278.9L406.5,289.6M406.5,289.6l0.6,-4.5M406.5,289.6l4.5,-0.5M417.3,261.2L404.9,269.9M404.9,269.9l1.3,-4.3M404.9,269.9l4.5,0.2M417.3,243.3L403.5,249.7M403.5,249.7l2.1,-4.0M403.5,249.7l4.4,1.0M417.3,225.4L402.2,227.4M402.2,227.4l3.2,-3.2M402.2,227.4l3.9,2.3M417.3,207.4L402.1,207.2M402.1,207.2l3.6,-2.7M402.1,207.2l3.5,2.8M417.3,189.2L403.1,183.7M403.1,183.7l4.3,-1.3M403.1,183.7l2.3,3.9M417.3,170.9L402.1,170.9M402.1,170.9l3.5,-2.8M402.1,170.9l3.5,2.8M434.2,536.7L419.2,539.1M419.2,539.1l3.1,-3.3M419.2,539.1l3.9,2.2M434.2,519.8L419.1,521.3M419.1,521.3l3.3,-3.1M419.1,521.3l3.8,2.4M434.2,502.8L419.1,504.2M419.1,504.2l3.3,-3.1M419.1,504.2l3.8,2.4M434.2,468.9L419.4,472.2M419.4,472.2l2.9,-3.5M419.4,472.2l4.1,1.9M434.2,451.9L419.8,456.6M419.8,456.6l2.5,-3.7M419.8,456.6l4.2,1.5M434.2,434.9L419.9,440.1M419.9,440.1l2.4,-3.8M419.9,440.1l4.3,1.4M434.2,400.6L420.1,406.4M420.1,406.4l2.2,-3.9M420.1,406.4l4.3,1.2M434.2,383.4L420.5,390.1M420.5,390.1l2.0,-4.0M420.5,390.1l4.4,0.9M434.2,366.2L421.1,373.8M421.1,373.8l1.7,-4.2M421.1,373.8l4.5,0.6M434.2,348.9L422.2,358.2M422.2,358.2l1.1,-4.4M422.2,358.2l4.5,0.0M434.2,331.5L423.4,342.2M423.4,342.2l0.6,-4.5M423.4,342.2l4.5,-0.5M434.2,314.1L424.0,325.3M424.0,325.3l0.3,-4.5M424.0,325.3l4.4,-0.8M434.2,296.5L424.4,308.2M424.4,308.2l0.2,-4.5M424.4,308.2l4.4,-0.9M434.2,278.9L424.6,290.6M424.6,290.6l0.1,-4.5M424.6,290.6l4.4,-1.0M434.2,261.2L422.5,270.9M422.5,270.9l1.0,-4.4M422.5,270.9l4.5,-0.1M434.2,243.3L419.5,247.2M419.5,247.2l2.7,-3.6M419.5,247.2l4.1,1.8M434.2,225.4L419.0,226.5M419.0,226.5l3.3,-3.0M419.0,226.5l3.7,2.5M434.2,207.4L419.0,207.4M419.0,207.4l3.5,-2.8M419.0,207.4l3.5,2.8M434.2,189.2L419.0,188.4M419.0,188.4l3.7,-2.6M419.0,188.4l3.4,3.0M434.2,170.9L420.4,177.2M420.4,177.2l2.1,-4.0M420.4,177.2l4.4,1.1M434.2,152.5L421.4,160.8M421.4,160.8l1.5,-4.3M421.4,160.8l4.5,0.4M451.1,553.6L436.2,556.7M436.2,556.7l2.9,-3.4M436.2,556.7l4.0,2.0M451.1,536.7L436.1,539.0M436.1,539.0l3.1,-3.3M436.1,539.0l3.9,2.2M451.1,519.8L435.9,520.9M435.9,520.9l3.3,-3.0M435.9,520.9l3.7,2.5M451.1,502.8L435.9,503.4M435.9,503.4l3.4,-2.9M435.9,503.4l3.6,2.6M451.1,485.9L436.3,489.3M436.3,489.3l2.8,-3.5M436.3,489.3l4.1,1.9M451.1,468.9L436.8,474.1M436.8,474.1l2.4,-3.8M436.8,474.1l4.3,1.4M451.1,451.9L437.3,458.3M437.3,458.3l2.0,-4.0M437.3,458.3l4.4,1.0M451.1,434.9L437.7,442.0M437.7,442.0l1.8,-4.1M437.7,442.0l4.4,0.8M451.1,417.8L437.4,424.3M437.4,424.3l2.0,-4.0M437.4,424.3l4.4,1.0M451.1,383.4L437.3,389.9M437.3,389.9l2.0,-4.0M437.3,389.9l4.4,1.0M451.1,366.2L437.5,372.9M437.5,372.9l2.0,-4.1M437.5,372.9l4.4,0.9M451.1,348.9L438.3,357.1M438.3,357.1l1.5,-4.3M438.3,357.1l4.5,0.4M451.1,331.5L439.9,341.8M439.9,341.8l0.7,-4.4M439.9,341.8l4.5,-0.4M451.1,314.1L444.0,327.5M444.0,327.5l-0.8,-4.4M444.0,327.5l4.1,-1.8M451.1,296.5L445.0,310.5M445.0,310.5l-1.1,-4.4M445.0,310.5l4.0,-2.1M451.1,278.9L443.2,291.9M443.2,291.9l-0.5,-4.5M443.2,291.9l4.2,-1.6M451.1,261.2L440.7,272.3M440.7,272.3l0.4,-4.5M440.7,272.3l4.4,-0.7M451.1,243.3L437.0,249.1M437.0,249.1l2.2,-3.9M437.0,249.1l4.3,1.2M451.1,225.4L436.0,227.2M436.0,227.2l3.2,-3.2M436.0,227.2l3.8,2.3M451.1,207.4L435.9,206.8M435.9,206.8l3.7,-2.6M435.9,206.8l3.4,2.9M451.1,189.2L436.5,185.2M436.5,185.2l4.2,-1.7M436.5,185.2l2.7,3.6M451.1,170.9L435.9,171.5M435.9,171.5l3.4,-2.9M435.9,171.5l3.6,2.6M451.1,152.5L439.7,162.6M439.7,162.6l0.8,-4.4M439.7,162.6l4.5,-0.3M451.1,133.9L440.3,144.6M440.3,144.6l0.6,-4.5M440.3,144.6l4.5,-0.5M468.0,553.6L453.1,556.7M453.1,556.7l2.9,-3.4M453.1,556.7l4.0,2.0M468.0,536.7L453.0,539.3M453.0,539.3l3.0,-3.3M453.0,539.3l4.0,2.1M468.0,519.8L452.9,521.4M452.9,521.4l3.2,-3.1M452.9,521.4l3.8,2.4M468.0,502.8L452.9,504.1M452.9,504.1l3.3,-3.1M452.9,504.1l3.8,2.5M468.0,485.9L453.3,489.6M453.3,489.6l2.8,-3.5M453.3,489.6l4.1,1.8M468.0,468.9L454.1,475.1M454.1,475.1l2.1,-4.0M454.1,475.1l4.4,1.1M468.0,451.9L455.0,459.9M455.0,459.9l1.6,-4.2M455.0,459.9l4.5,0.5M468.0,434.9L455.3,443.3M455.3,443.3l1.4,-4.3M455.3,443.3l4.5,0.3M468.0,417.8L455.1,425.8M455.1,425.8l1.6,-4.2M455.1,425.8l4.5,0.5M468.0,400.6L454.8,408.2M454.8,408.2l1.7,-4.2M454.8,408.2l4.5,0.6M468.0,383.4L454.8,391.0M454.8,391.0l1.7,-4.2M454.8,391.0l4.5,0.6M468.0,348.9L455.2,357.1M455.2,357.1l1.5,-4.2M455.2,357.1l4.5,0.4M468.0,331.5L456.8,341.8M456.8,341.8l0.7,-4.4M456.8,341.8l4.5,-0.4M468.0,314.1L461.3,327.7M461.3,327.7l-0.9,-4.4M461.3,327.7l4.0,-2.0M468.0,278.9L461.9,292.8M461.9,292.8l-1.1,-4.4M461.9,292.8l4.0,-2.1M468.0,261.2L460.0,274.1M460.0,274.1l-0.5,-4.5M460.0,274.1l4.2,-1.6M468.0,243.3L453.0,245.7M453.0,245.7l3.1,-3.3M453.0,245.7l3.9,2.2M468.0,225.4L452.8,226.3M452.8,226.3l3.4,-3.0M452.8,226.3l3.7,2.6M468.0,207.4L452.8,207.4M452.8,207.4l3.5,-2.8M452.8,207.4l3.6,2.8M468.0,189.2L453.1,186.0M453.1,186.0l4.1,-2.0M453.1,186.0l2.9,3.5M468.0,170.9L453.7,165.8M453.7,165.8l4.3,-1.4M453.7,165.8l2.4,3.8M468.0,152.5L455.4,161.0M455.4,161.0l1.4,-4.3M455.4,161.0l4.5,0.3M468.0,133.9L458.6,145.8M458.6,145.8l0.0,-4.5M458.6,145.8l4.4,-1.1M468.0,115.2L459.3,127.7M459.3,127.7l-0.3,-4.5M459.3,127.7l4.3,-1.3M484.9,536.7L470.0,539.5M470.0,539.5l3.0,-3.4M470.0,539.5l4.0,2.1M484.9,519.8L469.8,521.4M469.8,521.4l3.2,-3.1M469.8,521.4l3.8,2.4M484.9,502.8L469.7,503.4M469.7,503.4l3.4,-2.9M469.7,503.4l3.6,2.6M484.9,485.9L470.0,488.6M470.0,488.6l3.0,-3.4M470.0,488.6l4.0,2.1M484.9,451.9L472.0,459.9M472.0,459.9l1.6,-4.2M472.0,459.9l4.5,0.5M484.9,434.9L472.4,443.5M472.4,443.5l1.4,-4.3M472.4,443.5l4.5,0.3M484.9,417.8L472.4,426.4M472.4,426.4l1.3,-4.3M472.4,426.4l4.5,0.3M484.9,400.6L472.0,408.7M472.0,408.7l1.5,-4.2M472.0,408.7l4.5,0.5M484.9,383.4L472.3,391.9M472.3,391.9l1.4,-4.3M472.3,391.9l4.5,0.3M484.9,366.2L472.8,375.4M472.8,375.4l1.1,-4.4M472.8,375.4l4.5,0.0M484.9,243.3L469.9,245.5M469.9,245.5l3.1,-3.2M469.9,245.5l3.9,2.2M484.9,225.4L469.7,226.5M469.7,226.5l3.3,-3.0M469.7,226.5l3.7,2.5M484.9,207.4L470.1,210.7M470.1,210.7l2.9,-3.5M470.1,210.7l4.1,1.9M484.9,189.2L471.6,196.5M471.6,196.5l1.8,-4.1M471.6,196.5l4.4,0.7M484.9,115.2L478.5,129.0M478.5,129.0l-1.0,-4.4M478.5,129.0l4.0,-2.0M484.9,96.3L479.7,110.6M479.7,110.6l-1.4,-4.3M479.7,110.6l3.8,-2.4M501.8,536.7L486.9,539.9M486.9,539.9l2.9,-3.5M486.9,539.9l4.0,2.0M501.8,519.8L486.7,521.8M486.7,521.8l3.1,-3.2M486.7,521.8l3.9,2.3M501.8,502.8L486.6,503.9M486.6,503.9l3.3,-3.0M486.6,503.9l3.7,2.5M501.8,485.9L486.6,485.0M486.6,485.0l3.7,-2.6M486.6,485.0l3.4,3.0M501.8,468.9L487.8,462.9M487.8,462.9l4.4,-1.1M487.8,462.9l2.2,3.9M501.8,434.9L488.0,441.3M488.0,441.3l2.0,-4.0M488.0,441.3l4.4,1.0M501.8,417.8L488.6,425.4M488.6,425.4l1.7,-4.2M488.6,425.4l4.5,0.6M501.8,400.6L488.8,408.6M488.8,408.6l1.6,-4.2M488.8,408.6l4.5,0.5M501.8,383.4L489.6,392.5M489.6,392.5l1.2,-4.3M489.6,392.5l4.5,0.1M501.8,366.2L490.1,375.9M490.1,375.9l0.9,-4.4M490.1,375.9l4.5,-0.1M501.8,348.9L489.8,358.2M489.8,358.2l1.1,-4.4M489.8,358.2l4.5,0.0M501.8,314.1L489.0,322.2M489.0,322.2l1.5,-4.2M489.0,322.2l4.5,0.4M501.8,243.3L486.6,244.6M486.6,244.6l3.3,-3.0M486.6,244.6l3.8,2.5M501.8,225.4L486.6,225.5M486.6,225.5l3.5,-2.8M486.6,225.5l3.6,2.8M501.8,207.4L487.0,210.7M487.0,210.7l2.8,-3.5M487.0,210.7l4.1,1.9M501.8,189.2L489.5,198.2M489.5,198.2l1.2,-4.3M489.5,198.2l4.5,0.1M501.8,170.9L491.1,181.7M491.1,181.7l0.5,-4.5M491.1,181.7l4.5,-0.6M501.8,152.5L496.2,166.6M496.2,166.6l-1.3,-4.3M496.2,166.6l3.9,-2.3M501.8,133.9L498.1,148.7M498.1,148.7l-1.8,-4.1M498.1,148.7l3.5,-2.8M501.8,115.2L498.4,130.0M498.4,130.0l-1.9,-4.1M498.4,130.0l3.5,-2.8M501.8,96.3L500.4,111.4M500.4,111.4l-2.4,-3.8M500.4,111.4l3.1,-3.3M501.8,77.3L500.2,92.4M500.2,92.4l-2.4,-3.8M500.2,92.4l3.1,-3.2M501.8,58.0L501.2,73.2M501.2,73.2l-2.6,-3.6M501.2,73.2l2.9,-3.4M518.7,553.6L504.2,558.2M504.2,558.2l2.5,-3.7M504.2,558.2l4.2,1.6M518.7,536.7L503.9,540.1M503.9,540.1l2.8,-3.5M503.9,540.1l4.1,1.9M518.7,519.8L503.7,521.9M503.7,521.9l3.1,-3.2M503.7,521.9l3.9,2.2M518.7,502.8L503.5,503.9M503.5,503.9l3.3,-3.0M503.5,503.9l3.7,2.5M518.7,485.9L503.9,482.6M503.9,482.6l4.1,-1.9M503.9,482.6l2.9,3.5M518.7,468.9L505.5,461.4M505.5,461.4l4.5,-0.6M505.5,461.4l1.7,4.2M518.7,451.9L506.8,442.5M506.8,442.5l4.5,0.0M506.8,442.5l1.1,4.4M518.7,417.8L504.6,423.4M504.6,423.4l2.3,-3.9M504.6,423.4l4.3,1.3M518.7,383.4L507.0,393.2M507.0,393.2l0.9,-4.4M507.0,393.2l4.5,-0.1M518.7,366.2L506.7,375.5M506.7,375.5l1.1,-4.4M506.7,375.5l4.5,0.0M518.7,348.9L505.6,356.5M505.6,356.5l1.7,-4.2M505.6,356.5l4.5,0.6M518.7,314.1L503.6,315.4M503.6,315.4l3.3,-3.1M503.6,315.4l3.8,2.4M518.7,296.5L503.5,297.4M503.5,297.4l3.4,-3.0M503.5,297.4l3.7,2.6M518.7,278.9L503.5,278.9M503.5,278.9l3.5,-2.8M503.5,278.9l3.5,2.8M518.7,261.2L503.5,261.6M503.5,261.6l3.5,-2.9M503.5,261.6l3.6,2.7M518.7,243.3L503.5,243.4M503.5,243.4l3.5,-2.8M503.5,243.4l3.6,2.8M518.7,225.4L503.5,226.1M503.5,226.1l3.4,-2.9M503.5,226.1l3.7,2.6M518.7,207.4L503.6,208.9M503.6,208.9l3.2,-3.1M503.6,208.9l3.8,2.4M518.7,189.2L504.0,193.0M504.0,193.0l2.8,-3.6M504.0,193.0l4.1,1.8M518.7,170.9L508.6,182.3M508.6,182.3l0.3,-4.5M508.6,182.3l4.4,-0.8M518.7,152.5L512.6,166.4M512.6,166.4l-1.1,-4.4M512.6,166.4l4.0,-2.1M518.7,133.9L515.1,148.7M515.1,148.7l-1.9,-4.1M515.1,148.7l3.5,-2.8M518.7,115.2L516.1,130.2M516.1,130.2l-2.1,-4.0M516.1,130.2l3.3,-3.0M518.7,96.3L517.3,111.4M517.3,111.4l-2.4,-3.8M517.3,111.4l3.1,-3.3M518.7,77.3L518.1,92.4M518.1,92.4l-2.6,-3.7M518.1,92.4l2.9,-3.4M518.7,58.0L518.7,73.2M518.7,73.2l-2.8,-3.5M518.7,73.2l2.8,-3.5M518.7,38.6L518.5,53.8M518.5,53.8l-2.7,-3.6M518.5,53.8l2.8,-3.5M535.6,553.6L521.9,560.2M521.9,560.2l2.0,-4.0M521.9,560.2l4.4,1.0M535.6,536.7L522.1,543.7M522.1,543.7l1.9,-4.1M522.1,543.7l4.4,0.8M535.6,519.8L520.9,523.6M520.9,523.6l2.7,-3.6M520.9,523.6l4.1,1.8M535.6,502.8L520.5,504.7M520.5,504.7l3.2,-3.2M520.5,504.7l3.9,2.3M535.6,485.9L520.8,482.4M520.8,482.4l4.1,-1.9M520.8,482.4l2.8,3.5M535.6,468.9L521.6,463.0M521.6,463.0l4.3,-1.2M521.6,463.0l2.2,3.9M535.6,451.9L522.9,443.6M522.9,443.6l4.5,-0.4M522.9,443.6l1.4,4.3M535.6,417.8L520.9,421.7M520.9,421.7l2.7,-3.6M520.9,421.7l4.1,1.8M535.6,366.2L521.5,371.8M521.5,371.8l2.3,-3.9M521.5,371.8l4.3,1.3M535.6,331.5L520.4,332.5M520.4,332.5l3.4,-3.0M520.4,332.5l3.7,2.5M535.6,314.1L520.4,314.6M520.4,314.6l3.4,-2.9M520.4,314.6l3.6,2.6M535.6,296.5L520.4,297.3M520.4,297.3l3.4,-2.9M520.4,297.3l3.7,2.6M535.6,278.9L520.4,279.3M520.4,279.3l3.5,-2.9M520.4,279.3l3.6,2.7M535.6,261.2L520.4,261.9M520.4,261.9l3.4,-2.9M520.4,261.9l3.7,2.6M535.6,243.3L520.4,243.7M520.4,243.7l3.5,-2.9M520.4,243.7l3.6,2.7M535.6,225.4L520.4,226.0M520.4,226.0l3.4,-2.9M520.4,226.0l3.7,2.6M535.6,207.4L520.5,209.4M520.5,209.4l3.1,-3.2M520.5,209.4l3.9,2.3M535.6,189.2L521.5,194.8M521.5,194.8l2.3,-3.9M521.5,194.8l4.3,1.3M535.6,170.9L522.4,178.4M522.4,178.4l1.7,-4.2M522.4,178.4l4.5,0.7M535.6,152.5L526.6,164.8M526.6,164.8l-0.1,-4.5M526.6,164.8l4.3,-1.2M535.6,133.9L533.7,149.0M533.7,149.0l-2.3,-3.9M533.7,149.0l3.2,-3.2M535.6,115.2L534.8,130.4M534.8,130.4l-2.6,-3.7M534.8,130.4l3.0,-3.4M535.6,96.3L535.6,111.5M535.6,111.5l-2.8,-3.6M535.6,111.5l2.8,-3.5M535.6,77.3L535.5,92.5M535.5,92.5l-2.8,-3.6M535.5,92.5l2.8,-3.5M535.6,58.0L536.1,73.2M536.1,73.2l-2.9,-3.5M536.1,73.2l2.6,-3.6M535.6,38.6L535.9,53.8M535.9,53.8l-2.8,-3.5M535.9,53.8l2.7,-3.6M552.5,553.6L543.3,565.7M543.3,565.7l-0.1,-4.5M543.3,565.7l4.3,-1.2M552.5,536.7L539.3,544.2M539.3,544.2l1.7,-4.2M539.3,544.2l4.5,0.6M552.5,519.8L537.8,523.8M537.8,523.8l2.7,-3.6M537.8,523.8l4.1,1.7M552.5,502.8L537.5,505.0M537.5,505.0l3.1,-3.2M537.5,505.0l3.9,2.2M552.5,485.9L537.3,486.6M537.3,486.6l3.4,-2.9M537.3,486.6l3.7,2.6M552.5,417.8L538.2,422.8M538.2,422.8l2.4,-3.8M538.2,422.8l4.3,1.4M552.5,400.6L538.2,405.7M538.2,405.7l2.4,-3.8M538.2,405.7l4.3,1.4M552.5,383.4L537.5,385.9M537.5,385.9l3.0,-3.3M537.5,385.9l4.0,2.2M552.5,348.9L537.3,349.4M537.3,349.4l3.4,-2.9M537.3,349.4l3.6,2.6M552.5,331.5L537.3,332.3M537.3,332.3l3.4,-3.0M537.3,332.3l3.7,2.6M552.5,314.1L537.3,314.8M537.3,314.8l3.4,-2.9M537.3,314.8l3.7,2.6M552.5,296.5L537.3,297.2M537.3,297.2l3.4,-2.9M537.3,297.2l3.7,2.6M552.5,278.9L537.3,279.1M537.3,279.1l3.5,-2.8M537.3,279.1l3.6,2.7M552.5,261.2L537.3,261.6M537.3,261.6l3.5,-2.9M537.3,261.6l3.6,2.7M552.5,243.3L537.3,243.5M537.3,243.5l3.5,-2.8M537.3,243.5l3.6,2.7M552.5,225.4L537.3,225.4M537.3,225.4l3.5,-2.8M537.3,225.4l3.5,2.8M552.5,207.4L537.3,207.4M537.3,207.4l3.5,-2.8M537.3,207.4l3.6,2.8M552.5,189.2L537.3,188.8M537.3,188.8l3.6,-2.7M537.3,188.8l3.5,2.9M552.5,170.9L537.3,171.1M537.3,171.1l3.5,-2.8M537.3,171.1l3.6,2.7M552.5,152.5L539.3,160.1M539.3,160.1l1.7,-4.2M539.3,160.1l4.5,0.6M552.5,133.9L540.5,143.2M540.5,143.2l1.1,-4.4M540.5,143.2l4.5,0.0M552.5,115.2L548.0,129.7M548.0,129.7l-1.6,-4.2M548.0,129.7l3.7,-2.6M552.5,96.3L552.4,111.5M552.4,111.5l-2.7,-3.6M552.4,111.5l2.8,-3.5M552.5,77.3L552.9,92.5M552.9,92.5l-2.9,-3.5M552.9,92.5l2.7,-3.6M552.5,58.0L553.8,73.2M553.8,73.2l-3.1,-3.3M553.8,73.2l2.5,-3.8M552.5,38.6L553.5,53.8M553.5,53.8l-3.0,-3.4M553.5,53.8l2.5,-3.7M569.4,553.6L560.7,566.0M560.7,566.0l-0.2,-4.5M560.7,566.0l4.3,-1.3M569.4,536.7L556.3,544.3M556.3,544.3l1.7,-4.2M556.3,544.3l4.5,0.6M569.4,519.8L555.1,525.0M555.1,525.0l2.4,-3.8M555.1,525.0l4.3,1.4M569.4,502.8L554.8,507.1M554.8,507.1l2.6,-3.7M554.8,507.1l4.2,1.7M569.4,485.9L554.6,489.5M554.6,489.5l2.8,-3.5M554.6,489.5l4.1,1.8M569.4,468.9L554.3,471.0M554.3,471.0l3.1,-3.2M554.3,471.0l3.9,2.3M569.4,451.9L554.4,454.3M554.4,454.3l3.1,-3.3M554.4,454.3l3.9,2.2M569.4,400.6L554.5,403.4M554.5,403.4l3.0,-3.4M554.5,403.4l4.0,2.1M569.4,383.4L554.3,384.8M554.3,384.8l3.3,-3.1M554.3,384.8l3.8,2.4M569.4,366.2L554.3,367.6M554.3,367.6l3.3,-3.1M554.3,367.6l3.8,2.4M569.4,348.9L554.2,349.8M554.2,349.8l3.4,-3.0M554.2,349.8l3.7,2.5M569.4,331.5L554.2,332.3M554.2,332.3l3.4,-3.0M554.2,332.3l3.7,2.6M569.4,314.1L554.2,314.3M554.2,314.3l3.5,-2.8M554.2,314.3l3.6,2.7M569.4,296.5L554.2,296.7M554.2,296.7l3.5,-2.8M554.2,296.7l3.6,2.7M569.4,278.9L554.2,278.9M554.2,278.9l3.5,-2.8M554.2,278.9l3.5,2.8M569.4,261.2L554.2,261.3M554.2,261.3l3.5,-2.8M554.2,261.3l3.6,2.8M569.4,243.3L554.2,243.4M554.2,243.4l3.5,-2.8M554.2,243.4l3.5,2.8M569.4,225.4L554.2,225.3M554.2,225.3l3.6,-2.7M554.2,225.3l3.5,2.8M569.4,207.4L554.2,206.9M554.2,206.9l3.6,-2.6M554.2,206.9l3.4,2.9M569.4,189.2L554.2,188.7M554.2,188.7l3.6,-2.7M554.2,188.7l3.5,2.9M569.4,170.9L554.2,170.7M554.2,170.7l3.6,-2.7M554.2,170.7l3.5,2.8M569.4,152.5L554.4,149.8M554.4,149.8l4.0,-2.1M554.4,149.8l3.0,3.4M569.4,133.9L555.2,139.3M555.2,139.3l2.3,-3.9M555.2,139.3l4.3,1.3M569.4,115.2L567.7,130.3M567.7,130.3l-2.4,-3.8M567.7,130.3l3.1,-3.2M569.4,96.3L571.4,111.4M571.4,111.4l-3.2,-3.1M571.4,111.4l2.3,-3.9M569.4,77.3L571.2,92.4M571.2,92.4l-3.2,-3.2M571.2,92.4l2.3,-3.8M569.4,58.0L572.0,73.0M572.0,73.0l-3.3,-3.0M572.0,73.0l2.1,-4.0M569.4,38.6L571.7,53.6M571.7,53.6l-3.3,-3.1M571.7,53.6l2.2,-3.9M586.3,553.6L576.5,565.2M576.5,565.2l0.2,-4.5M576.5,565.2l4.4,-0.9M586.3,536.7L574.2,545.9M574.2,545.9l1.1,-4.4M574.2,545.9l4.5,0.1M586.3,519.8L572.5,526.2M572.5,526.2l2.0,-4.0M572.5,526.2l4.4,1.0M586.3,502.8L572.0,508.0M572.0,508.0l2.4,-3.8M572.0,508.0l4.3,1.4M586.3,485.9L571.6,489.9M571.6,489.9l2.7,-3.6M571.6,489.9l4.1,1.7M586.3,468.9L571.5,472.5M571.5,472.5l2.8,-3.5M571.5,472.5l4.1,1.9M586.3,451.9L571.4,455.1M571.4,455.1l2.9,-3.4M571.4,455.1l4.0,2.0M586.3,434.9L571.3,437.5M571.3,437.5l3.0,-3.4M571.3,437.5l4.0,2.1M586.3,417.8L571.2,419.9M571.2,419.9l3.1,-3.2M571.2,419.9l3.9,2.2M586.3,400.6L571.2,402.7M571.2,402.7l3.1,-3.2M571.2,402.7l3.9,2.3M586.3,383.4L571.2,385.0M571.2,385.0l3.2,-3.1M571.2,385.0l3.8,2.4M586.3,366.2L571.2,367.5M571.2,367.5l3.3,-3.1M571.2,367.5l3.8,2.5M586.3,348.9L571.1,350.0M571.1,350.0l3.3,-3.0M571.1,350.0l3.7,2.5M586.3,331.5L571.1,332.1M571.1,332.1l3.4,-2.9M571.1,332.1l3.7,2.6M586.3,314.1L571.1,314.1M571.1,314.1l3.5,-2.8M571.1,314.1l3.5,2.8M586.3,296.5L571.1,296.6M571.1,296.6l3.5,-2.8M571.1,296.6l3.6,2.7M586.3,278.9L571.1,279.0M571.1,279.0l3.5,-2.8M571.1,279.0l3.6,2.7M586.3,261.2L571.1,261.3M571.1,261.3l3.5,-2.8M571.1,261.3l3.6,2.7M586.3,243.3L571.1,243.4M571.1,243.4l3.5,-2.8M571.1,243.4l3.6,2.8M586.3,225.4L571.1,225.3M571.1,225.3l3.6,-2.7M571.1,225.3l3.5,2.8M586.3,207.4L571.1,206.6M571.1,206.6l3.7,-2.6M571.1,206.6l3.4,2.9M586.3,189.2L571.2,187.9M571.2,187.9l3.8,-2.4M571.2,187.9l3.3,3.1M586.3,170.9L571.3,168.3M571.3,168.3l4.0,-2.1M571.3,168.3l3.0,3.3M586.3,152.5L571.6,148.7M571.6,148.7l4.1,-1.8M571.6,148.7l2.7,3.6M586.3,133.9L571.6,130.1M571.6,130.1l4.1,-1.8M571.6,130.1l2.7,3.6M586.3,115.2L578.5,128.2M578.5,128.2l-0.5,-4.5M578.5,128.2l4.2,-1.6M586.3,96.3L587.1,111.5M587.1,111.5l-3.0,-3.4M587.1,111.5l2.6,-3.7M586.3,77.3L588.2,92.3M588.2,92.3l-3.2,-3.2M588.2,92.3l2.3,-3.9M586.3,58.0L589.3,72.9M589.3,72.9l-3.4,-2.9M589.3,72.9l2.0,-4.0M586.3,38.6L589.1,53.5M589.1,53.5l-3.4,-3.0M589.1,53.5l2.1,-4.0M603.2,536.7L591.2,546.0M591.2,546.0l1.1,-4.4M591.2,546.0l4.5,0.0M603.2,519.8L590.1,527.4M590.1,527.4l1.7,-4.2M590.1,527.4l4.5,0.6M603.2,502.8L589.4,509.1M589.4,509.1l2.1,-4.0M589.4,509.1l4.4,1.1M603.2,485.9L588.8,490.8M588.8,490.8l2.5,-3.8M588.8,490.8l4.3,1.5M603.2,468.9L588.6,473.1M588.6,473.1l2.6,-3.6M588.6,473.1l4.2,1.7M603.2,451.9L588.4,455.5M588.4,455.5l2.8,-3.5M588.4,455.5l4.1,1.9M603.2,434.9L588.3,437.9M588.3,437.9l2.9,-3.4M588.3,437.9l4.0,2.0M603.2,417.8L588.2,420.2M588.2,420.2l3.1,-3.3M588.2,420.2l3.9,2.2M603.2,400.6L588.1,402.6M588.1,402.6l3.2,-3.2M588.1,402.6l3.9,2.3M603.2,383.4L588.1,385.0M588.1,385.0l3.2,-3.1M588.1,385.0l3.8,2.4M603.2,366.2L588.1,367.7M588.1,367.7l3.3,-3.1M588.1,367.7l3.8,2.4M603.2,348.9L588.0,350.0M588.0,350.0l3.3,-3.0M588.0,350.0l3.7,2.5M603.2,331.5L588.0,332.2M588.0,332.2l3.4,-2.9M588.0,332.2l3.7,2.6M603.2,314.1L588.0,314.1M588.0,314.1l3.5,-2.8M588.0,314.1l3.6,2.8M603.2,296.5L588.0,296.6M588.0,296.6l3.5,-2.8M588.0,296.6l3.6,2.7M603.2,278.9L588.0,279.0M588.0,279.0l3.5,-2.8M588.0,279.0l3.6,2.8M603.2,261.2L588.0,261.3M588.0,261.3l3.5,-2.8M588.0,261.3l3.6,2.7M603.2,243.3L588.0,243.4M588.0,243.4l3.5,-2.8M588.0,243.4l3.5,2.8M603.2,225.4L588.0,225.3M588.0,225.3l3.6,-2.7M588.0,225.3l3.5,2.8M603.2,207.4L588.0,206.7M588.0,206.7l3.7,-2.6M588.0,206.7l3.4,2.9M603.2,189.2L588.1,187.7M588.1,187.7l3.8,-2.4M588.1,187.7l3.3,3.1M603.2,170.9L588.3,168.2M588.3,168.2l4.0,-2.1M588.3,168.2l3.0,3.4M603.2,152.5L588.5,148.6M588.5,148.6l4.1,-1.8M588.5,148.6l2.7,3.6M603.2,133.9L588.7,129.3M588.7,129.3l4.2,-1.6M588.7,129.3l2.5,3.7M603.2,115.2L593.1,126.6M593.1,126.6l0.3,-4.5M593.1,126.6l4.4,-0.8M603.2,96.3L607.0,111.0M607.0,111.0l-3.6,-2.7M607.0,111.0l1.8,-4.1M603.2,77.3L606.8,92.0M606.8,92.0l-3.5,-2.8M606.8,92.0l1.8,-4.1M603.2,58.0L607.1,72.7M607.1,72.7l-3.6,-2.7M607.1,72.7l1.8,-4.1M603.2,38.6L607.0,53.3M607.0,53.3l-3.6,-2.7M607.0,53.3l1.8,-4.1M620.1,553.6L609.3,564.3M609.3,564.3l0.6,-4.5M609.3,564.3l4.5,-0.5M620.1,536.7L608.7,546.7M608.7,546.7l0.8,-4.4M608.7,546.7l4.5,-0.3M620.1,519.8L607.5,528.3M607.5,528.3l1.4,-4.3M607.5,528.3l4.5,0.3M620.1,502.8L606.3,509.3M606.3,509.3l2.0,-4.0M606.3,509.3l4.4,1.0M620.1,485.9L605.8,491.1M605.8,491.1l2.4,-3.8M605.8,491.1l4.3,1.4M620.1,468.9L605.6,473.5M605.6,473.5l2.5,-3.7M605.6,473.5l4.2,1.6M620.1,451.9L605.4,455.8M605.4,455.8l2.7,-3.6M605.4,455.8l4.1,1.8M620.1,434.9L605.3,438.1M605.3,438.1l2.9,-3.5M605.3,438.1l4.1,1.9M620.1,417.8L605.1,420.4M605.1,420.4l3.0,-3.3M605.1,420.4l4.0,2.1M620.1,400.6L605.1,403.0M605.1,403.0l3.1,-3.3M605.1,403.0l3.9,2.2M620.1,383.4L605.0,385.5M605.0,385.5l3.1,-3.2M605.0,385.5l3.9,2.3M620.1,366.2L605.0,367.7M605.0,367.7l3.3,-3.1M605.0,367.7l3.8,2.4M620.1,348.9L604.9,350.0M604.9,350.0l3.3,-3.0M604.9,350.0l3.7,2.5M620.1,331.5L604.9,332.0M604.9,332.0l3.5,-2.9M604.9,332.0l3.6,2.7M620.1,314.1L604.9,313.5M604.9,313.5l3.6,-2.7M604.9,313.5l3.5,2.9M620.1,296.5L604.9,296.4M604.9,296.4l3.6,-2.7M604.9,296.4l3.5,2.8M620.1,278.9L604.9,278.9M604.9,278.9l3.5,-2.8M604.9,278.9l3.5,2.8M620.1,261.2L604.9,261.2M604.9,261.2l3.5,-2.8M604.9,261.2l3.5,2.8M620.1,243.3L604.9,243.3M604.9,243.3l3.5,-2.8M604.9,243.3l3.5,2.8M620.1,225.4L604.9,225.4M604.9,225.4l3.5,-2.8M604.9,225.4l3.5,2.8M620.1,207.4L604.9,206.8M604.9,206.8l3.6,-2.6M604.9,206.8l3.4,2.9M620.1,189.2L605.0,187.6M605.0,187.6l3.8,-2.4M605.0,187.6l3.2,3.1M620.1,170.9L605.1,168.3M605.1,168.3l4.0,-2.1M605.1,168.3l3.0,3.3M620.1,152.5L605.4,148.5M605.4,148.5l4.1,-1.8M605.4,148.5l2.7,3.6M620.1,133.9L606.5,127.1M606.5,127.1l4.4,-0.9M606.5,127.1l1.9,4.1M620.1,115.2L608.3,105.6M608.3,105.6l4.5,0.1M608.3,105.6l1.0,4.4M620.1,96.3L615.3,110.7M615.3,110.7l-1.5,-4.2M615.3,110.7l3.8,-2.5M620.1,77.3L627.4,90.6M627.4,90.6l-4.1,-1.8M627.4,90.6l0.7,-4.4M620.1,58.0L625.3,72.3M625.3,72.3l-3.8,-2.4M625.3,72.3l1.4,-4.3M620.1,38.6L624.8,53.1M624.8,53.1l-3.7,-2.5M624.8,53.1l1.5,-4.2M637.0,553.6L625.8,563.9M625.8,563.9l0.7,-4.4M625.8,563.9l4.5,-0.4M637.0,536.7L625.6,546.8M625.6,546.8l0.8,-4.4M625.6,546.8l4.5,-0.3M637.0,519.8L624.6,528.5M624.6,528.5l1.3,-4.3M624.6,528.5l4.5,0.2M637.0,502.8L623.6,510.0M623.6,510.0l1.8,-4.1M623.6,510.0l4.4,0.8M637.0,485.9L622.9,491.5M622.9,491.5l2.3,-3.9M622.9,491.5l4.3,1.3M637.0,468.9L622.6,473.7M622.6,473.7l2.5,-3.7M622.6,473.7l4.2,1.5M637.0,451.9L622.3,455.9M622.3,455.9l2.7,-3.6M622.3,455.9l4.1,1.7M637.0,434.9L622.2,438.2M622.2,438.2l2.9,-3.5M622.2,438.2l4.1,1.9M637.0,417.8L622.0,420.4M622.0,420.4l3.0,-3.4M622.0,420.4l4.0,2.1M637.0,400.6L622.0,402.9M622.0,402.9l3.1,-3.3M622.0,402.9l3.9,2.2M637.0,383.4L621.9,385.6M621.9,385.6l3.1,-3.2M621.9,385.6l3.9,2.3M637.0,366.2L621.9,368.0M621.9,368.0l3.2,-3.2M621.9,368.0l3.9,2.3M637.0,348.9L621.8,350.0M621.8,350.0l3.3,-3.0M621.8,350.0l3.7,2.5M637.0,331.5L621.8,331.5M621.8,331.5l3.5,-2.8M621.8,331.5l3.6,2.8M637.0,314.1L621.8,313.5M621.8,313.5l3.6,-2.6M621.8,313.5l3.5,2.9M637.0,296.5L621.8,296.2M621.8,296.2l3.6,-2.7M621.8,296.2l3.5,2.8M637.0,278.9L621.8,278.9M621.8,278.9l3.5,-2.8M621.8,278.9l3.5,2.8M637.0,261.2L621.8,261.2M621.8,261.2l3.5,-2.8M621.8,261.2l3.6,2.8M637.0,243.3L621.8,243.3M621.8,243.3l3.5,-2.8M621.8,243.3l3.5,2.8M637.0,225.4L621.8,225.3M621.8,225.3l3.6,-2.7M621.8,225.3l3.5,2.8M637.0,207.4L621.8,206.7M621.8,206.7l3.7,-2.6M621.8,206.7l3.4,2.9M637.0,189.2L621.9,187.6M621.9,187.6l3.8,-2.4M621.9,187.6l3.2,3.1M637.0,170.9L622.0,168.3M622.0,168.3l4.0,-2.1M622.0,168.3l3.0,3.3M637.0,152.5L622.3,148.6M622.3,148.6l4.1,-1.8M622.3,148.6l2.7,3.6M637.0,133.9L623.1,127.9M623.1,127.9l4.4,-1.1M623.1,127.9l2.2,4.0M637.0,115.2L623.9,107.4M623.9,107.4l4.5,-0.6M623.9,107.4l1.6,4.2M637.0,96.3L639.0,111.4M639.0,111.4l-3.2,-3.2M639.0,111.4l2.3,-3.9M637.0,77.3L644.4,90.5M644.4,90.5l-4.1,-1.7M644.4,90.5l0.7,-4.4M637.0,58.0L642.3,72.3M642.3,72.3l-3.8,-2.4M642.3,72.3l1.4,-4.3M637.0,38.6L642.0,53.0M642.0,53.0l-3.8,-2.4M642.0,53.0l1.4,-4.3"/>
</g>
<path d="M474,147.5 471.5,155 469.8,162.5 471,170 473.5,177.5 477.2,182.5 479.8,188 481,190 483.5,187.5 485.5,181.2 488.5,175 492.2,168.8 494.8,162.5 497.2,156.2 499.8,150 501,143.8 500.5,137.5 498.5,132.5 494.8,128.8 491,128.8 486,130.5 481,135 477.2,141.2ZM287.5,254.7 291,255.8 294.5,255.3 298,253.5 301.5,251.2 304.9,249.5 307.8,247.7 309,244.2 310.2,240.7 311.9,237.8 313.7,234.9 315.4,232.6 316.6,229.7 315.4,227.4 313.1,225.7 310.7,223.9 306.7,223.9 302.6,225.1 299.1,226.2 295.1,226.6 291,226.8 287.5,228 284.6,230.3 281.1,233.2 278.2,236.1 276.5,239.6 275.9,243.1 276.5,247.1 277.6,250.6 280.6,252.4 284,253.5ZM125.5,450 129.2,457.5 131.8,463.8 133,471.2 135.5,478.8 138,486.2 140.5,493.8 143,500 146.8,506.2 150.5,512.5 153,518.8 156.8,523.8 161.8,527.5 166.8,531.2 171.8,535 176.8,538.8 181.8,542.5 186.8,546.2 190.5,548.8 194.2,547.5 198,548.8 202.5,547.5 201.8,542.5 199.2,536.2 196.8,531.2 194.2,525 191.8,518.8 189.2,512.5 188,505 189.2,497.5 188,490 185.5,483.8 181.8,478.8 176.8,473.8 171.8,470 166.8,465 161.8,461.2 156.8,457.5 150.5,453.8 144.2,451.2 139.2,447.5 138,445 136.8,437.5 134.2,430 131.8,422.5 131,415 130,407.5 126.8,410 121.8,412.5 118,410 115.5,403.8 116.8,396.2 119.2,388.8 121.8,381.2 124.2,375 126.8,368.8 130.5,362.5 131,355 130,348.8 130.5,342.5 134.2,340 139.2,338.8 144.2,339.5 147.5,341.2 146.8,346.2 145.5,352.5 148,354.5 151.8,355.5 156.8,355 160.5,353.8 164.2,356.2 168,358.8 171.8,362.5 175.5,363.8 178,370 180.5,377.5 181.8,383.8 185.5,386.2 188,382.5 191.8,381.2 194.2,385 196.8,388.8 201.8,391.2 206.8,393.8 211.8,397.5 214.2,401.2 213,407.5 212.5,415 211.8,421.2 214.2,423.8 218,422.5 220.5,417.5 225.5,413.8 231.8,410 236.8,407.5 240.5,403.8 244.2,400 248,395 251.8,393.8 256.8,391.2 261.8,388.8 268,386.2 273,382.5 278,380 281.8,376.2 284.2,371.2 285.5,365 286.8,357.5 288.5,348.8 287.5,340 286,330 283,320 280.5,311.2 276.8,302.5 271.8,295 268,290.5 261.8,286.2 255.5,281.2 249.2,276.2 245,270.5 240.5,266.2 236.8,261.2 234.2,256.2 231,253 227.5,248.8 226,242.5 227.5,235 229.2,230 232.2,225.5 235.5,220.5 239.2,216.2 241.8,211.2 243,207.5 246.8,208 250.5,205 254.2,201.2 255,196 259.6,196.6 263.7,196 266.6,196.6 269.5,195.5 272.4,193.7 275.3,190.8 278.2,193.7 281.1,194.9 284,197.8 287.5,197.8 290.4,196 292.2,193.7 295.7,196.6 298,198.9 296.2,202.4 294.5,205.9 294.5,209.4 296.2,212.9 298,215.8 299.7,218.7 302.6,219.8 305.5,219.3 307.8,217.5 308.4,215.8 306.1,214 304.4,211.7 303.2,209.4 302.6,206.5 304.4,204.7 306.7,205.9 307.8,204.2 306.1,201.8 304.9,199.5 306.7,200.7 309,201.8 310.7,200.7 314.2,198.9 319.5,197.5 325.8,195 332,192.5 339.5,191.2 345.8,188.8 352,186.2 358.2,183.8 360.8,180 359,175 356.5,169.5 358.2,170 363.2,175 367,180 373.2,178.8 378.2,176.2 383.2,175 389.5,174.5 395.8,172.5 402,171.2 408.2,167.5 410.8,162.5 415.8,161.2 420.8,157.5 425.8,155 430.8,151.2 432,146.2 435.8,142.5 440.8,141.2 445.8,137.5 449.5,133.8 452,130 457.2,121.2 459.8,115 462.2,107.5 464.8,102.5 468.5,97.5 472.2,93.8 476,88.8 479.8,83.8 483.5,80 487.2,76.2 491,71.2 496,67.5 499.8,62.5 501,55 502.2,47.5 504.8,41.2 506,37 506,30 100,30 100.5,433.8 113,433.8 116.8,437.5 121.8,443.8ZM473.5,289.8 471,292.2 466,291 464.8,294.8 464.4,296 466.3,301.2 468.3,307.6 470.2,314.1 472.2,316.7 475.4,319.3 477.3,322.5 479.9,320.6 482.5,319.9 484.7,321.2 485.8,323.4 483.2,325.1 479.9,327 479.3,330.9 481.9,333.5 485.8,335.5 490.3,337.4 493.5,335.1 496.1,333.3 498.7,332.9 501.3,335.5 505.2,336.8 507.7,339.3 509.7,342.6 511.6,345.2 513.2,344.5 512.3,341.3 511,337.4 509.7,333.5 511.6,332.5 514.2,333.5 516.8,336.1 520,339.3 523.3,342.6 526.5,345.2 529.1,347.7 531.7,349.7 533.6,352.9 536.2,355.5 538.1,354.2 538.8,349 536.9,346.5 533.6,344.5 530.4,341.9 528.4,339.3 530.4,337.4 533.6,336.8 534.9,334.8 532.3,333.5 528.4,333.5 525.9,334.8 522,333.5 519.4,330.3 516.8,327 512.9,326 509.7,327 508.4,330.3 507.1,331.2 503.9,331.6 500.6,329 498,325.8 496.1,321.9 495.5,318 493.5,314.1 491.6,310.2 493.5,309.8 496,303.5 499.8,298.5 504.8,294.8 507.2,288.5 509.8,282.2 511,276 509.8,268.5 507.2,261 507.2,254.8 504.8,252.2 501,256 496,254.8 489.8,250.5 483.5,249.8 479,252.2 477.2,258.5 475.5,266 474.8,273.5 474,282.2ZM501.9,339.7 499.7,340.6 499.5,343.2 501.3,344.9 503.6,344.1 503.9,341.3ZM486.4,360 489,361.3 492.2,359.4 494.2,355.5 492.9,351 490.9,347.1 487.7,343.2 483.8,340.6 479.3,340 476.1,340.6 478.6,343.9 481.2,347.7 483.2,351.6 485.1,356.2ZM502.8,354.9 502.6,359.6 503.9,360.7 504.6,358.4 504.4,355.8ZM473.2,362.2 469.5,361.5 466.5,363.5 466.2,367.2 468.2,369.8 472,369.8 474.5,366ZM431.2,421.8 436.2,418 441.2,414.2 445,409.2 448.8,404.2 452.5,400.5 456.2,398 460,394 462.5,388.5 462.5,382.2 460.8,377.8 458.8,379 457.5,384 455,388.5 451.2,391.5 447.5,395.2 443.8,401 440,406 435,411 430,415.2 425,420.2 421.2,425.2 418.8,431.2 416.2,437.2 417.2,438.5 420,434.2 423.8,429.2 427.5,425.5ZM417.5,446 417,448.5 419.5,449.5 422,448 420.8,445.5ZM502.3,456.6 500.5,458.5 501.4,461 503.9,461.3 505.4,459.3 504.8,457.2ZM484.9,470.4 487.3,470.3 489.2,468.9 489.5,467.1 488.1,466 485.7,466.1 483.8,467.5 483.5,469.3ZM470.1,483.7 472.3,483.1 474,481.5 474.2,479.9 472.7,479.3 470.5,479.9 468.8,481.5 468.6,483.1ZM269.2,508 271.8,503.8 268.5,499.5 265.5,503.8ZM433.2,555 438.2,556.2 444.5,556.2 450.8,556.2 449.5,553.8 445.8,550 442,547.5 438.2,545 434.5,542.5 432,537.5 433.2,532.5 430.8,527.5 428.2,522.5 425.8,518.8 424.5,513.8 427,511.2 430.8,510 432,505 429.5,500 432,496.2 437,495 442,496.2 445.8,495 442,492.5 438.2,490 439.5,486.2 444.5,485 449.5,484.5 454.5,483 455.8,480 452,478 447,476.2 443.2,473.8 439.5,472.5 435.8,471.2 433.2,468.8 429.5,466.2 428.2,462.5 425.8,458.8 423.2,455 420.8,452.5 418.2,457.5 415.8,453.8 413.2,451.2 412,455 409.5,460 405.8,465 402,470 398.2,475 394.5,478.8 392,482.5 388.2,483.8 383.2,485.5 378.2,488.8 373.2,491.2 368.2,492.5 365.8,496.2 362,501.2 358.2,506.2 354.5,511.2 350.8,516.2 345.8,518.8 339.5,520 333.2,521.2 327,522 322.5,523.8 321.5,530 320.8,537.5 318.2,542.5 313.2,543 307,542.5 302,540 296.8,538 291.8,540 286.8,545 283,550 281.8,556.2 280.5,562.5 281,580 425.8,580 425.8,570 428.2,563.8 430.8,558.8ZM126.8,577.5 200.5,577.5 198,570 194.2,567.5 190.5,563.8 186.8,560 183,558.8 179.2,556.2 174.2,553.8 170.5,550 166.8,545 163,543.8 159.2,541.2 154.2,538.8 149.2,536.2 144.2,533.8 139.2,531.2 134.2,527.5 130.5,525 126.8,521.2 121.8,516.2 116.8,511.2 113,508.8 100.5,508.8 100.5,552.8 112,552.8 116.5,563.5 124.5,570ZM491,560 498.5,559.5 506,560 513.5,561.2 521,563 528.5,563.8 536,562.5 542.2,560 547.2,556.2 551,551.2 554.8,547.5 556,543.8 552.2,542.5 548.5,545 544.8,548.8 539.8,553 533.5,555 526,556.2 518.5,555.5 511,554.5 503.5,553 496,551.2 489.8,549.5 484.8,548 481,552.5 476,555 471,557.5 467.2,562.5 466,575 469.8,575 472.2,562.5 477.2,560 483.5,561.2ZM542,331.6 539.4,330.3 537.5,333.5 537.2,336.8 538.8,338.7 541.4,338 542.7,334.8ZM511.6,360.9 513.7,360.4 512.9,358.5 510.1,358.1ZM534.9,371 537.2,370.8 535.6,367.8 533,364.6 529.5,361.3 525.9,358.4 522.6,356.8 522.2,359.4 524.8,362.2 528.2,365.2 531.7,368.4ZM551.8,371.6 554.7,374.5 556.6,378.4 559.5,380.3 562.4,379.3 561.5,375.5 560.5,370.6 561.5,365.8 559.5,361.9 557.6,359 555.7,356.1 552.8,355.2 548.9,356.1 545,357.1 541.2,358.1 542.1,360 544.1,362.9 547,365.8 548.9,368.7ZM503.4,391.9 507.3,390 511.2,388.1 514.1,386.1 517,384.2 519.9,381.3 521.8,377.4 518.9,375.5 515,373.5 511.2,371.6 507.3,369.7 503.4,370.6 503.4,376.4 502.4,381.3 502.1,386.1 501.5,391ZM548.9,391 549.9,395.8 552.8,397.7 555.7,395.8 554.7,391.9 552.8,388.1 550.8,384.2 549.9,379.3 547.9,375.5 545,372.6 542.1,374.5 541.2,377.4 542.7,380.3 544.1,384.2 547,387.1ZM524.1,405.5 525.3,407.4 527.6,402.6 530.5,397.7 533.4,392.9 535.3,388.1 535.7,383.2 533.4,382.3 531.9,386.1 530.5,391 528,395.8 525.7,400.6ZM510.2,403.5 511.2,407.4 514.1,410.3 517,412.3 518.9,416.1 521.8,416.1 523.7,413.2 522.8,408.4 522.8,402.6 524.7,397.7 526.6,392.9 527.6,388.1 525.7,385.2 522.8,384.2 519.9,385.2 517.9,391 517,395.8 516,400.6 513.1,401.6ZM544.1,400.6 541.2,398.7 537.3,398.7 533.4,401.6 534.4,405.5 537.3,407.4 541.2,406.4 544.1,404.5ZM528,413.6 527.9,415.1 529.3,415.7 530.5,414.5 529.6,413ZM546.8,413.9 546.6,415 547.7,415.6 548.8,414.7 548,413.3ZM553.9,420.1 551.6,419 549.7,420.5 548.8,423.6 546.9,426 544.6,425.2 541.5,426 540.7,428.3 539.2,431.4 536.1,432.2 533,433.7 531,434 532.2,431.4 532.2,427.5 530.7,424.4 528.4,423.6 526,422.9 524.5,425.2 522.2,426 519.8,427.5 519.1,431.4 516.7,433.7 513.6,433.4 510.5,434.5 507.5,436.2 505.1,439.1 503.6,443 502,447.3 501.3,450.7 502.8,452.8 505.1,451.8 506.7,448.7 508.2,444.9 509.8,441.8 512.1,440.2 515.2,441 516.7,444.2 518.3,441.8 520.3,440.2 522.2,442.7 523.7,441 525.6,443.3 526.8,440.7 528,437.6 531.1,436.8 532.7,437.9 535.8,440.2 538.4,442.7 540.1,444.9 539.2,447.6 537,450.7 536.3,454.6 537,458.2 538.4,461.9 540.4,465 543.5,467.5 546.6,469.3 550,470.6 553.1,470.9 555,469.3 557,470.9 558.1,473.7 559.6,476.3 560.9,474.7 562.4,471.6 564.3,468.6 564.7,465 562.9,461.9 560.9,459.3 559.8,456.2 561.2,453.1 563.2,449.2 565.5,446.1 567.8,446.9 569.9,450 571.4,453.8 572.5,458.5 573.6,463.1 574.5,459.3 575.1,454.6 576.4,450.7 578.7,447.6 579.8,443 578.7,437.6 577.4,432.2 576,427.5 574.8,422.9 573,418.2 570.2,412.8 567.1,409.7 564,407.4 560.9,405.1 560.4,411.3 560.6,415.9 559,419 556.2,418.2ZM581.8,495 581.5,498.8 583,500.5 584.5,498.8 584,494.5ZM561.5,513 564,512 563.5,508.8 560.5,508.8ZM609.8,527.5 607.2,532.5 607.2,535 610.5,537.5 614,535 615.5,530 613.5,526.2ZM607.2,563.8 612.2,564.5 616,563.8 613.5,561.2 609.8,560 606,560 607.2,557.5 611,555 614.8,551.2 616,546.2 613.5,543.8 609.8,545 606,546.2 603.5,543.8 603.5,537.5 601,535 598.5,540 596,546.2 594.8,552.5 597.2,557.5 596,563.8 597.2,570 601,570 603.5,566.2Z" fill="#c0c0c0" fill-rule="evenodd" stroke="#000" stroke-width="1.5" stroke-linejoin="round"/>
<polyline points="258,198.8 253,195.5 248,192 244.2,188.8 241.8,183.8 243,178.8 245,174.5 241.8,172.5 236.8,173 231.8,171.2 226.8,168.8 223,166.2 220,163.2 216.8,166.2 213,167.5 210,169.5 209.2,173.8 205.5,175 201.8,174.5 198.5,177 196.8,179.5 194.2,176.2 191.8,175 189.2,177.5 187.5,175 184.2,178.8 181.8,180.5 178,178 175,175.5 171.8,175 169.2,178.8 167.5,182" fill="none" stroke="#000" stroke-width="1.25"/>
<polyline points="167.5,182 163.5,181.2 160,180 157.5,182.5 156.8,186.2 158,190 160.5,193.8 161,198.8 160,203 156.8,203.8 153,203 151,200 149.2,195.5 147.5,193.8 145,195.5 141.8,198 138,198.8 134.2,198 131.8,195.5 130,191.2 126.8,188.8 121.8,187.5 118,186.2 116.8,182.5 118.5,178.8 120,175 121.8,171.2 119.2,168.8 115.5,168 111,167.5" fill="none" stroke="#000" stroke-width="1.25"/>
<polyline points="148,194.5 145.5,198.8 141.8,202.5 139.2,205 135.5,210 133,213.8 132.5,217.5 136.8,220 140,223.8 139.2,228.8 138,232 143,233 149.2,232.5 152.5,233.8 151.8,240 153,243.8 151,250 149.2,255 148,260 147.5,265 145.5,267.5 149.2,270 153,266.2 158,262.5 161.8,260 166.8,257.5 170.5,259.5 174.2,263.8 179.2,261.2 183,258.8 185.5,253.8 190.5,253.8 195.5,255 199.2,258.8 203,263.8 206.8,267.5 210.5,272.5 211,280 213,286.2 216.8,292.5 219.2,295.8" fill="none" stroke="#000" stroke-width="1.25"/>
<polyline points="111,225 118,223.8 123,221.2 128,218 132.5,217.5" fill="none" stroke="#000" stroke-width="1.25"/>
<polyline points="167.5,182 170.5,186.2 174.2,190 178,192.5 180.5,196.2 179.2,201.2 181.8,205 184.2,209.5 189.2,211.2 194.2,210.5 198,208 201.8,208.8 206,212.5 208,216.2 211,220 214.2,223.8 213,227.5 209.2,229.5 204.2,230.5 199.2,232.5 196.8,237 200.5,240 205.5,243 210.5,246.2 215.5,249.5 218,253 216.8,257.5 220.5,261.2 224.2,266.2 228,270 233,273.8 236.8,278.8 239.2,283.8 243,287.5 246.8,291.2 249.2,295" fill="none" stroke="#000" stroke-width="1.25"/>
<polyline points="214.2,290 218,292.5 221.8,296.2 225,302.5 224.2,310 225,317.5 224.2,325 219.2,327.5 215.5,325 210.5,323 203,323.8 195.5,324.5 188,325 180.5,326.2 178,330 174.2,335 170.5,338.8 170,345 170.5,352.5 169.2,358.8" fill="none" stroke="#000" stroke-width="1.25"/>
<polyline points="248,290 251.8,295 254.2,300 258,305 259.2,311.2 256.8,317.5 253,321.2 246.8,323.8 240.5,322 235.5,323.8 230,322.5 230.5,327.5 225.5,328.8 219.2,327.5" fill="none" stroke="#000" stroke-width="1.25"/>
<polyline points="253,321.2 255.5,327.5 258,335 257.5,342.5 258.5,350 258,357.5 254.2,361.2 249.2,362.5 244.2,365 239.2,368.8 234.2,371.2 230,373.8 229.2,378.8 231.8,382.5 235.5,385 233,387.5 228,386.2 223,385 218,386.2 216.8,381.2 215.5,376.2 213,372.5 211.8,367.5 218,365 223.5,363.8" fill="none" stroke="#000" stroke-width="1.25"/>
<polyline points="218,386.2 215.5,390 211.8,393.8 208,394.5" fill="none" stroke="#000" stroke-width="1.25"/>
<polyline points="111,331.2 114.2,331.2 116.8,338.8 118,346.2 120.5,352.5 124.2,358.8 123,365 120.5,371.2 118,377.5 114.2,383.8 111,386.2" fill="none" stroke="#000" stroke-width="1.25"/>
<polyline points="133,457.5 138,458.8 143,461.2 145.5,466.2 149.2,468.8 151.8,473.8 156.8,471.2 161.8,472.5 164.2,467.5 166.8,465.5" fill="none" stroke="#000" stroke-width="1.25"/>
<polyline points="297,548.8 302,550 307,555 313.2,553.8 319.5,552.5 327,551.2 334.5,550 337,545 343.2,543.8 349.5,543 355.8,547.5 362,548.8 368.2,546.2 374.5,546.2 378.2,542.5 380.8,537.5 382,531.2 385.8,527.5 387,522.5 389.5,517.5 392,512.5 394,506.2 394.5,500 398.2,497.5 404.5,497 412,496.8 419.5,496.2 427,497 429.5,499.5" fill="none" stroke="#000" stroke-width="1.25"/>
<polyline points="282,556 288,552 294,553 300,549" fill="none" stroke="#000" stroke-width="1.25"/>
<polyline points="368.2,493 370.8,497.5 374.5,501.2 378.2,502.5 380.8,498.8 381.5,492.5 382.5,487.5" fill="none" stroke="#000" stroke-width="1.25"/>
<polyline points="384,486.2 385,492.5 388.2,496.2 389.5,491.2 388.2,484.5" fill="none" stroke="#000" stroke-width="1.25"/>
<polyline points="302,160 305.8,161.2 309.5,162.5 314.5,163 319.5,162 323.2,161.2" fill="none" stroke="#000" stroke-width="1.25"/>
<path d="M239.9,511.8 239.6,513.9 237.2,516.2 234.1,517.1 232.1,516.2 232.4,514.1 234.8,511.8 237.9,510.9ZM230.6,517.5 230.4,518.9 228.8,520.3 226.7,521 225.4,520.5 225.6,519.1 227.2,517.7 229.3,517ZM200.7,552.7 198.7,553.9 195.1,553.3 192.1,551.5 191.3,549.3 193.3,548.1 196.9,548.7 199.9,550.5ZM207.8,559.2 205.3,559.9 202.1,558.3 199.9,555.4 200.2,552.8 202.7,552.1 205.9,553.7 208.1,556.6ZM202.8,560.6 202.1,562.4 199.7,563.9 196.8,564.3 195.2,563.4 195.9,561.6 198.3,560.1 201.2,559.7ZM211,563 210.1,564.4 208,565 205.9,564.4 205,563 205.9,561.6 208,561 210.1,561.6ZM190.9,552.6 190,554.3 186.7,557 183,559.1 181.1,559.4 182,557.7 185.3,555 189,552.9ZM201.5,523 201.1,524.1 200,524.5 198.9,524.1 198.5,523 198.9,521.9 200,521.5 201.1,521.9ZM205.2,528 204.8,528.8 204,529.2 203.2,528.8 202.8,528 203.2,527.2 204,526.8 204.8,527.2ZM244,422 243.4,423.1 242,423.5 240.6,423.1 240,422 240.6,420.9 242,420.5 243.4,420.9ZM607.9,99.6 607.5,102 604.4,105 600.5,106.9 598.1,106.4 598.5,104 601.6,101 605.5,99.1ZM596.9,110.9 595.3,111.4 591.8,111.2 588.4,110.2 587.1,109.1 588.7,108.6 592.2,108.8 595.6,109.8ZM587,108 586.4,108.7 585,109 583.6,108.7 583,108 583.6,107.3 585,107 586.4,107.3ZM631.1,68.1 630.7,70.1 628.1,72.6 624.9,74.2 622.9,73.9 623.3,71.9 625.9,69.4 629.1,67.8ZM621.5,81 621.1,82.1 620,82.5 618.9,82.1 618.5,81 618.9,79.9 620,79.5 621.1,79.9ZM615.2,88 614.8,88.8 614,89.2 613.2,88.8 612.8,88 613.2,87.2 614,86.8 614.8,87.2ZM610.2,93 609.8,93.8 609,94.2 608.2,93.8 607.8,93 608.2,92.2 609,91.8 609.8,92.2ZM536.8,145 536.5,146.6 534.7,147.9 532.5,148.1 531.2,147 531.5,145.4 533.3,144.1 535.5,143.9ZM542.2,141.8 542.2,143.2 540.9,144.6 539.1,145 537.8,144.2 537.8,142.8 539.1,141.4 540.9,141ZM559.2,138 558.6,139.3 557,139.8 555.4,139.3 554.8,138 555.4,136.7 557,136.2 558.6,136.7ZM550,139 549.7,140.1 549,140.5 548.3,140.1 548,139 548.3,137.9 549,137.5 549.7,137.9ZM635.5,47 635.1,48.1 634,48.5 632.9,48.1 632.5,47 632.9,45.9 634,45.5 635.1,45.9ZM631.2,53 630.8,53.8 630,54.2 629.2,53.8 628.8,53 629.2,52.2 630,51.8 630.8,52.2ZM459.5,160 458.8,161.4 457,162 455.2,161.4 454.5,160 455.2,158.6 457,158 458.8,158.6ZM500.9,210.3 500.1,211.9 499.1,212.3 498.7,211.4 499.1,209.7 499.9,208.1 500.9,207.7 501.3,208.6ZM502.5,216.7 502.6,217.7 501.8,218.9 500.5,219.6 499.5,219.3 499.4,218.3 500.2,217.1 501.5,216.4ZM495.8,245 495.3,246.3 494,246.8 492.7,246.3 492.2,245 492.7,243.7 494,243.2 495.3,243.7ZM491.2,242 490.8,243.4 490,244 489.2,243.4 488.8,242 489.2,240.6 490,240 490.8,240.6ZM503,245 502.4,246.1 501,246.5 499.6,246.1 499,245 499.6,243.9 501,243.5 502.4,243.9ZM473.5,366.4 472.1,369.8 470.1,370.9 468.6,369.2 468.5,365.6 469.9,362.2 471.9,361.1 473.4,362.8ZM467.5,372 467.1,373.1 466,373.5 464.9,373.1 464.5,372 464.9,370.9 466,370.5 467.1,370.9ZM483,385 482.7,385.7 482,386 481.3,385.7 481,385 481.3,384.3 482,384 482.7,384.3ZM487,392 486.7,392.7 486,393 485.3,392.7 485,392 485.3,391.3 486,391 486.7,391.3ZM491,388 490.7,388.7 490,389 489.3,388.7 489,388 489.3,387.3 490,387 490.7,387.3ZM489.8,467 489.4,468.3 487.5,469.4 485.4,469.7 484.2,469 484.6,467.7 486.5,466.6 488.6,466.3ZM483,475 482.4,475.8 481,476.2 479.6,475.8 479,475 479.6,474.2 481,473.8 482.4,474.2ZM473.6,480.5 473.4,481.9 471.8,483.3 469.7,484 468.4,483.5 468.6,482.1 470.2,480.7 472.3,480ZM464.5,486 464.1,487.1 463,487.5 461.9,487.1 461.5,486 461.9,484.9 463,484.5 464.1,484.9ZM459.5,490 459.1,491.1 458,491.5 456.9,491.1 456.5,490 456.9,488.9 458,488.5 459.1,488.9ZM431.5,499 429.6,499.9 426.8,499.2 424.7,497.1 424.5,495 426.4,494.1 429.2,494.8 431.3,496.9ZM428.9,508.9 427.2,510 423.7,510 420.3,508.8 419.1,507.1 420.8,506 424.3,506 427.7,507.2ZM430,517 429.1,519.1 427,520 424.9,519.1 424,517 424.9,514.9 427,514 429.1,514.9ZM436,535 435.1,536.4 433,537 430.9,536.4 430,535 430.9,533.6 433,533 435.1,533.6ZM447.5,492 445.9,492.3 443.2,491.3 441,489.5 440.5,488 442.1,487.7 444.8,488.7 447,490.5ZM434.3,472.9 432.9,473.2 431,472.1 429.7,470.4 429.7,469.1 431.1,468.8 433,469.9 434.3,471.6ZM571.5,405.4 570.1,408.8 568.1,409.9 566.6,408.2 566.5,404.6 567.9,401.2 569.9,400.1 571.4,401.8ZM565,398 564.4,399.4 563,400 561.6,399.4 561,398 561.6,396.6 563,396 564.4,396.6ZM560,382 559.4,384.1 558,385 556.6,384.1 556,382 556.6,379.9 558,379 559.4,379.9ZM550.5,372 549.8,373.4 548,374 546.2,373.4 545.5,372 546.2,370.6 548,370 549.8,370.6ZM567.2,469 566.8,470.1 566,470.5 565.2,470.1 564.8,469 565.2,467.9 566,467.5 566.8,467.9ZM567,520 566.7,520.8 566,521.2 565.3,520.8 565,520 565.3,519.2 566,518.8 566.7,519.2ZM567,526 566.7,526.8 566,527.2 565.3,526.8 565,526 565.3,525.2 566,524.8 566.7,525.2ZM567,532 566.7,532.7 566,533 565.3,532.7 565,532 565.3,531.3 566,531 566.7,531.3ZM594,556 593.7,557.4 593,558 592.3,557.4 592,556 592.3,554.6 593,554 593.7,554.6ZM594,563 593.7,564.4 593,565 592.3,564.4 592,563 592.3,561.6 593,561 593.7,561.6ZM501.9,44.7 502.4,46.3 501.5,48.3 499.7,49.5 498.1,49.3 497.6,47.7 498.5,45.7 500.3,44.5ZM499.2,53.8 499.1,55 497.8,56.3 496,56.8 494.8,56.2 494.9,55 496.2,53.7 498,53.2ZM496,62 495.4,63.4 494,64 492.6,63.4 492,62 492.6,60.6 494,60 495.4,60.6ZM491.5,69.4 492,70.7 491.3,72.8 489.9,74.4 488.5,74.6 488,73.3 488.7,71.2 490.1,69.6ZM490,80 489.4,81.4 488,82 486.6,81.4 486,80 486.6,78.6 488,78 489.4,78.6ZM482.3,86.1 482.5,87.7 481.3,89.5 479.3,90.4 477.7,89.9 477.5,88.3 478.7,86.5 480.7,85.6ZM475.2,94.8 475.1,96 473.8,97.3 472,97.8 470.8,97.2 470.9,96 472.2,94.7 474,94.2ZM468.3,102.1 468.5,103.7 467.3,105.5 465.3,106.4 463.7,105.9 463.5,104.3 464.7,102.5 466.7,101.6ZM464,110 463.4,111.1 462,111.5 460.6,111.1 460,110 460.6,108.9 462,108.5 463.4,108.9ZM461.6,116.5 461.5,118.2 460,119.7 457.9,120.3 456.4,119.5 456.5,117.8 458,116.3 460.1,115.7ZM458.6,123.5 458.5,125.2 457,126.7 454.9,127.3 453.4,126.5 453.5,124.8 455,123.3 457.1,122.7ZM450.3,133.1 450.3,134.4 449,136.1 447.1,137.2 445.7,136.9 445.7,135.6 447,133.9 448.9,132.8ZM443,142 442.4,143.1 441,143.5 439.6,143.1 439,142 439.6,140.9 441,140.5 442.4,140.9ZM434.9,148.4 435,149.7 434,151.1 432.3,151.9 431.1,151.6 431,150.3 432,148.9 433.7,148.1ZM429,157 428.4,158.1 427,158.5 425.6,158.1 425,157 425.6,155.9 427,155.5 428.4,155.9ZM421,162 420.4,163.1 419,163.5 417.6,163.1 417,162 417.6,160.9 419,160.5 420.4,160.9ZM412,166 411.4,166.8 410,167.2 408.6,166.8 408,166 408.6,165.2 410,164.8 411.4,165.2ZM404,170 403.4,170.8 402,171.2 400.6,170.8 400,170 400.6,169.2 402,168.8 403.4,169.2ZM375.8,174.6 375.1,176.4 372.7,177.9 369.8,178.3 368.2,177.4 368.9,175.6 371.3,174.1 374.2,173.7ZM369,182 368.1,183.4 366,184 363.9,183.4 363,182 363.9,180.6 366,180 368.1,180.6ZM361,176.3 359.9,179 358.3,179.9 357.1,178.5 357,175.7 358.1,173 359.7,172.1 360.9,173.5ZM358,184 357.1,185.4 355,186 352.9,185.4 352,184 352.9,182.6 355,182 357.1,182.6ZM352,188 351.4,189.1 350,189.5 348.6,189.1 348,188 348.6,186.9 350,186.5 351.4,186.9ZM345,190 344.4,190.8 343,191.2 341.6,190.8 341,190 341.6,189.2 343,188.8 344.4,189.2ZM336,192 335.4,192.8 334,193.2 332.6,192.8 332,192 332.6,191.2 334,190.8 335.4,191.2ZM324,196 323.4,196.8 322,197.2 320.6,196.8 320,196 320.6,195.2 322,194.8 323.4,195.2ZM261.5,198 261.5,200.4 259.5,202.6 256.6,203.3 254.5,202 254.5,199.6 256.5,197.4 259.4,196.7ZM253.5,204 253.3,206.1 251.2,208.2 248.4,208.9 246.5,208 246.7,205.9 248.8,203.8 251.6,203.1ZM247,209 246.1,210.4 244,211 241.9,210.4 241,209 241.9,207.6 244,207 246.1,207.6ZM267.8,195 267.5,196.6 265.7,197.9 263.5,198.1 262.2,197 262.5,195.4 264.3,194.1 266.5,193.9ZM503,317 502.5,318.8 501.5,319.5 500.4,318.8 500,317 500.4,315.3 501.5,314.5 502.5,315.3ZM519.1,323.6 518.8,324.5 517.9,324.8 517.1,324.5 516.7,323.6 517.1,322.8 517.9,322.4 518.8,322.8ZM476.4,342.6 476.1,343.3 475.4,343.6 474.6,343.3 474.4,342.6 474.6,341.9 475.4,341.6 476.1,341.9ZM494.7,366.2 494.4,367.2 493.7,367.7 493,367.2 492.7,366.2 493,365.1 493.7,364.7 494.4,365.1ZM482.2,377.4 481.9,378.1 481.2,378.4 480.5,378.1 480.2,377.4 480.5,376.7 481.2,376.4 481.9,376.7ZM486,380.3 485.7,381 485,381.3 484.3,381 484,380.3 484.3,379.6 485,379.3 485.7,379.6ZM488,385.2 487.7,385.9 487,386.2 486.3,385.9 486,385.2 486.3,384.4 487,384.2 487.7,384.4ZM480.2,385.5 479.9,386.2 479.2,386.5 478.5,386.2 478.2,385.5 478.5,384.8 479.2,384.5 479.9,384.8ZM513.6,359 513.2,359.7 512.1,360 511.1,359.7 510.6,359 511.1,358.3 512.1,358 513.2,358.3ZM546.9,368.8 545.6,369.8 543.4,369.6 541.6,368.3 541.2,366.7 542.5,365.7 544.7,365.9 546.5,367.1ZM551.4,372 550.7,373.4 548.9,374 547.1,373.4 546.4,372 547.1,370.6 548.9,370 550.7,370.6ZM536.5,377.4 536.2,378.5 535.3,378.9 534.5,378.5 534.1,377.4 534.5,376.4 535.3,375.9 536.2,376.4ZM542.7,389 542.2,390.4 541.2,391 540.1,390.4 539.7,389 540.1,387.6 541.2,387 542.2,387.6ZM560.1,381.3 559.6,382.3 558.6,382.8 557.5,382.3 557.1,381.3 557.5,380.2 558.6,379.8 559.6,380.2ZM565.1,385.5 564.7,387 563.6,387.5 562.5,387 562.1,385.5 562.5,384.1 563.6,383.5 564.7,384.1ZM567,391 566.6,392 565.5,392.5 564.5,392 564,391 564.5,389.9 565.5,389.5 566.6,389.9ZM564,398.1 563,400.8 561.4,401.7 560.2,400.3 560.1,397.4 561.2,394.7 562.8,393.8 563.9,395.2ZM565.9,403.5 565.4,405.7 564.4,406.5 563.3,405.7 562.9,403.5 563.3,401.4 564.4,400.5 565.4,401.4ZM548,414.2 547.7,414.9 547,415.2 546.3,414.9 546,414.2 546.3,413.5 547,413.2 547.7,413.5ZM524.7,366.8 524.4,368.2 523.7,368.8 523,368.2 522.7,366.8 523,365.4 523.7,364.8 524.4,365.4ZM510.2,323.2 509.9,323.9 509.2,324.2 508.5,323.9 508.2,323.2 508.5,322.5 509.2,322.2 509.9,322.5ZM507.7,318.4 507.4,319.1 506.7,319.4 506,319.1 505.7,318.4 506,317.7 506.7,317.4 507.4,317.7ZM491.4,324.2 490.9,325.3 489.9,325.7 488.8,325.3 488.4,324.2 488.8,323.1 489.9,322.7 490.9,323.1ZM481.2,319.4 480.6,320.2 479.2,320.6 477.8,320.2 477.2,319.4 477.8,318.5 479.2,318.2 480.6,318.5ZM498.6,350.7 498.3,351.8 497.6,352.2 496.9,351.8 496.6,350.7 496.9,349.6 497.6,349.2 498.3,349.6ZM503.4,358.1 503.2,359.1 502.4,359.6 501.7,359.1 501.4,358.1 501.7,357 502.4,356.6 503.2,357ZM531.5,379.3 531.2,380.1 530.5,380.3 529.8,380.1 529.5,379.3 529.8,378.6 530.5,378.3 531.2,378.6ZM554.3,358.1 553.8,358.8 552.8,359.1 551.7,358.8 551.3,358.1 551.7,357.4 552.8,357.1 553.8,357.4ZM557.6,363.9 557.3,364.9 556.6,365.4 555.9,364.9 555.6,363.9 555.9,362.8 556.6,362.4 557.3,362.8ZM422,38.5 421.4,39.2 420,39.5 418.6,39.2 418,38.5 418.6,37.8 420,37.5 421.4,37.8ZM424,46 423.7,46.7 423,47 422.3,46.7 422,46 422.3,45.3 423,45 423.7,45.3Z" fill="#000" stroke="#000" stroke-width="1"/>
</g>
<rect x="112" y="37" width="526" height="534" fill="none" stroke="#000" stroke-width="2" shape-rendering="crispEdges"/>
<path d="M130.5,38v5M130.5,570v-5M163.5,38v5M163.5,570v-5M197.5,38v5M197.5,570v-5M231.5,38v5M231.5,570v-5M265.5,38v5M265.5,570v-5M299.5,38v5M299.5,570v-5M332.5,38v5M332.5,570v-5M366.5,38v5M366.5,570v-5M400.5,38v5M400.5,570v-5M434.5,38v5M434.5,570v-5M468.5,38v5M468.5,570v-5M501.5,38v5M501.5,570v-5M535.5,38v5M535.5,570v-5M569.5,38v5M569.5,570v-5M603.5,38v5M603.5,570v-5M637.5,38v5M637.5,570v-5M113,570.5h5M637,570.5h-5M113,536.5h5M637,536.5h-5M113,502.5h5M637,502.5h-5M113,468.5h5M637,468.5h-5M113,434.5h5M637,434.5h-5M113,400.5h5M637,400.5h-5M113,366.5h5M637,366.5h-5M113,331.5h5M637,331.5h-5M113,296.5h5M637,296.5h-5M113,261.5h5M637,261.5h-5M113,225.5h5M637,225.5h-5M113,189.5h5M637,189.5h-5M113,152.5h5M637,152.5h-5M113,115.5h5M637,115.5h-5M113,77.5h5M637,77.5h-5M113,38.5h5M637,38.5h-5" stroke="#000" stroke-width="1" shape-rendering="crispEdges"/>
<text x="133.7" y="588" font-size="11" font-style="italic" text-anchor="middle" fill="#000">100 E</text>
<text x="218.2" y="588" font-size="11" font-style="italic" text-anchor="middle" fill="#000">105 E</text>
<text x="302.7" y="588" font-size="11" font-style="italic" text-anchor="middle" fill="#000">110 E</text>
<text x="387.2" y="588" font-size="11" font-style="italic" text-anchor="middle" fill="#000">115 E</text>
<text x="471.7" y="588" font-size="11" font-style="italic" text-anchor="middle" fill="#000">120 E</text>
<text x="556.2" y="588" font-size="11" font-style="italic" text-anchor="middle" fill="#000">125 E</text>
<text x="640.7" y="588" font-size="11" font-style="italic" text-anchor="middle" fill="#000">130 E</text>
<text x="645" y="574.0" font-size="11" font-style="italic" fill="#000">0</text>
<text x="645" y="489.4" font-size="11" font-style="italic" fill="#000">5 N</text>
<text x="645" y="404.1" font-size="11" font-style="italic" fill="#000">10 N</text>
<text x="645" y="317.6" font-size="11" font-style="italic" fill="#000">15 N</text>
<text x="645" y="228.9" font-size="11" font-style="italic" fill="#000">20 N</text>
<text x="645" y="137.4" font-size="11" font-style="italic" fill="#000">25 N</text>
<text x="645" y="42.1" font-size="11" font-style="italic" fill="#000">30 N</text>
<text x="375.5" y="20" font-size="14" text-anchor="middle" fill="#000050" textLength="255" lengthAdjust="spacingAndGlyphs">Significant Wave Height with Wave Direction</text>
<text x="376" y="31.5" font-size="13" font-style="italic" text-anchor="middle" fill="#000050" textLength="185" lengthAdjust="spacingAndGlyphs">Valid For Mar-01-2013 18:00 GMT</text>
<text x="112.5" y="601.5" font-size="12" fill="#101068" textLength="128" lengthAdjust="spacingAndGlyphs">oceanweather inc.</text>
<text x="520" y="598.5" font-size="8" font-style="italic" fill="#202080" textLength="117.5" lengthAdjust="spacingAndGlyphs">Plotted at Mar 01, 2013 12:02 GMT</text>
<rect x="255" y="629" width="241" height="13" fill="url(#cb)"/>
<text x="375" y="613" font-size="9.5" text-anchor="middle" fill="#000050" textLength="139" lengthAdjust="spacingAndGlyphs">Significant Wave Height (Meters)</text>
<text x="375" y="662" font-size="9.5" text-anchor="middle" fill="#000050" textLength="130" lengthAdjust="spacingAndGlyphs">Significant Wave Height (Feet)</text>
<text x="255.5" y="626" font-size="9.5" text-anchor="middle" fill="#000">0</text>
<text x="275.5" y="626" font-size="9.5" text-anchor="middle" fill="#000">1</text>
<text x="295.6" y="626" font-size="9.5" text-anchor="middle" fill="#000">2</text>
<text x="315.6" y="626" font-size="9.5" text-anchor="middle" fill="#000">3</text>
<text x="335.7" y="626" font-size="9.5" text-anchor="middle" fill="#000">4</text>
<text x="355.7" y="626" font-size="9.5" text-anchor="middle" fill="#000">5</text>
<text x="375.8" y="626" font-size="9.5" text-anchor="middle" fill="#000">6</text>
<text x="395.8" y="626" font-size="9.5" text-anchor="middle" fill="#000">7</text>
<text x="415.8" y="626" font-size="9.5" text-anchor="middle" fill="#000">8</text>
<text x="435.9" y="626" font-size="9.5" text-anchor="middle" fill="#000">9</text>
<text x="455.9" y="626" font-size="9.5" text-anchor="middle" fill="#000">10</text>
<text x="476.0" y="626" font-size="9.5" text-anchor="middle" fill="#000">11</text>
<text x="496.0" y="626" font-size="9.5" text-anchor="middle" fill="#000">12</text>
<text x="255.5" y="652" font-size="9.5" text-anchor="middle" fill="#000">0</text>
<text x="286.0" y="652" font-size="9.5" text-anchor="middle" fill="#000">5</text>
<text x="316.6" y="652" font-size="9.5" text-anchor="middle" fill="#000">10</text>
<text x="347.1" y="652" font-size="9.5" text-anchor="middle" fill="#000">15</text>
<text x="377.7" y="652" font-size="9.5" text-anchor="middle" fill="#000">20</text>
<text x="408.2" y="652" font-size="9.5" text-anchor="middle" fill="#000">25</text>
<text x="438.8" y="652" font-size="9.5" text-anchor="middle" fill="#000">30</text>
<text x="469.3" y="652" font-size="9.5" text-anchor="middle" fill="#000">35</text>
<text x="499.8" y="652" font-size="9.5" text-anchor="middle" fill="#000">40</text>
</svg></body></html>
